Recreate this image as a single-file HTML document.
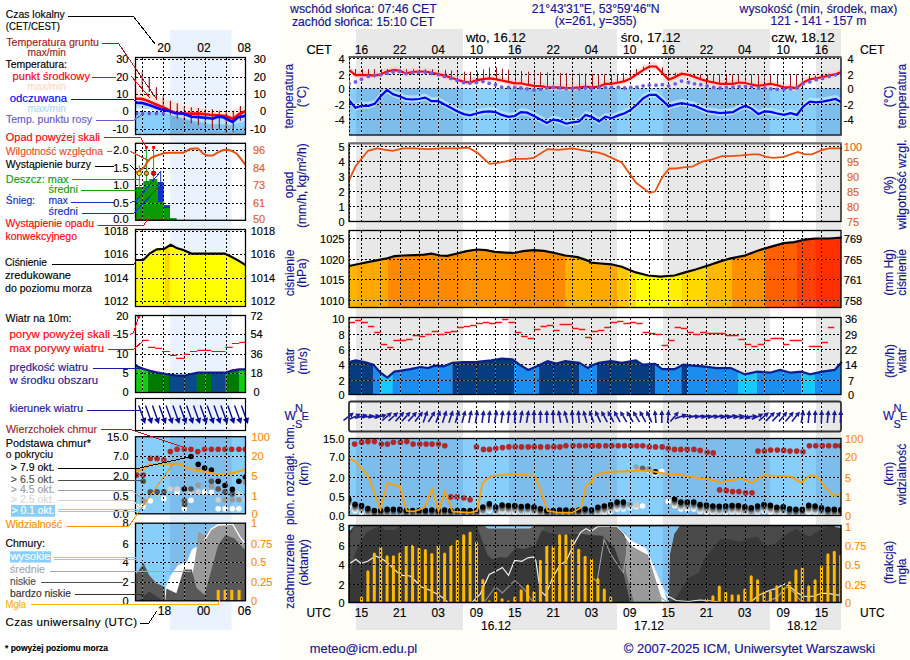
<!DOCTYPE html><html><head><meta charset="utf-8"><style>html,body{margin:0;padding:0;background:#fffff8;} svg{display:block;font-family:'Liberation Sans', sans-serif;}</style></head><body>
<svg width="910" height="660" viewBox="0 0 910 660"><defs>
<clipPath id="cTemp"><rect x="349" y="57.5" width="492" height="77.5"/></clipPath>
<clipPath id="cCb"><rect x="349" y="438.5" width="492" height="77"/></clipPath>
<clipPath id="cCl"><rect x="349" y="525.5" width="492" height="77"/></clipPath>
</defs>
<rect x="0" y="0" width="281" height="660" fill="#ffffff"/>
<rect x="349" y="29" width="492" height="601" fill="#ffffff"/>
<rect x="356" y="29" width="107" height="601" fill="#e8e8e8"/>
<rect x="509" y="29" width="108" height="601" fill="#e8e8e8"/>
<rect x="663" y="29" width="107" height="601" fill="#e8e8e8"/>
<rect x="816" y="29" width="25" height="601" fill="#e8e8e8"/>
<rect x="170" y="30" width="61.599999999999994" height="600" fill="#eaf2fd"/>
<rect x="349" y="57.5" width="492" height="77.5" fill="#ffffff"/>
<rect x="356" y="57.5" width="107" height="77.5" fill="#e8e8e8"/>
<rect x="509" y="57.5" width="108" height="77.5" fill="#e8e8e8"/>
<rect x="663" y="57.5" width="107" height="77.5" fill="#e8e8e8"/>
<rect x="816" y="57.5" width="25" height="77.5" fill="#e8e8e8"/>
<rect x="349" y="88" width="492" height="47" fill="#87cefa"/>
<rect x="356" y="88" width="107" height="47" fill="#7dbdec"/>
<rect x="509" y="88" width="108" height="47" fill="#7dbdec"/>
<rect x="663" y="88" width="107" height="47" fill="#7dbdec"/>
<rect x="816" y="88" width="25" height="47" fill="#7dbdec"/>
<path d="M349.5,57.5V135" stroke="#555" stroke-width="1"/>
<g clip-path="url(#cTemp)">
<path d="M349,65.9 L355.4,71.1 L361.5,70.8 L368.4,71.1 L374.7,71.6 L380.7,70.2 L387.0,67.5 L393.1,66.1 L399.4,66.7 L406.0,69.4 L412.3,68.0 L418.6,67.5 L425.2,67.5 L431.5,68.9 L438.4,70.2 L444.5,71.6 L450.8,73.5 L457.1,75.7 L463.7,77.6 L470.0,78.5 L476.3,76.3 L482.9,75.2 L489.2,74.4 L495.5,75.2 L501.6,76.5 L508.5,77.9 L514.8,79.3 L520.8,79.3 L527.1,80.7 L534.0,81.8 L540.6,82.0 L546.9,83.4 L553.2,83.4 L559.8,83.4 L566.2,84.0 L572.5,84.0 L579.1,83.4 L585.4,82.6 L591.7,83.4 L599.1,82.6 L605.4,79.8 L611.5,79.8 L618.4,78.5 L624.7,77.1 L630.7,74.4 L637.0,70.2 L643.1,66.1 L649.4,62.5 L656.0,62.5 L662.3,68.9 L668.6,75.7 L675.2,73.0 L681.5,69.7 L688.4,70.8 L694.5,73.0 L700.8,75.2 L707.1,77.1 L713.7,78.5 L720.0,79.8 L726.3,79.8 L732.9,79.8 L739.2,78.5 L745.5,79.0 L751.6,80.7 L758.5,81.8 L764.8,80.7 L770.8,79.8 L777.1,81.2 L784.0,83.4 L790.6,83.4 L796.9,84.0 L803.2,78.5 L809.8,75.2 L816.2,74.4 L822.5,73.0 L829.1,71.6 L835.4,70.2 L841.7,68.0 L841,68 L841,75 L841.7,75.0 L835.4,77.2 L829.1,78.6 L822.5,80.0 L816.2,81.4 L809.8,82.2 L803.2,85.5 L796.9,91.0 L790.6,90.4 L784.0,90.4 L777.1,88.2 L770.8,86.8 L764.8,87.7 L758.5,88.8 L751.6,87.7 L745.5,86.0 L739.2,85.5 L732.9,86.8 L726.3,86.8 L720.0,86.8 L713.7,85.5 L707.1,84.1 L700.8,82.2 L694.5,80.0 L688.4,77.8 L681.5,76.7 L675.2,80.0 L668.6,82.7 L662.3,75.9 L656.0,69.5 L649.4,69.5 L643.1,73.1 L637.0,77.2 L630.7,81.4 L624.7,84.1 L618.4,85.5 L611.5,86.8 L605.4,86.8 L599.1,89.6 L591.7,90.4 L585.4,89.6 L579.1,90.4 L572.5,91.0 L566.2,91.0 L559.8,90.4 L553.2,90.4 L546.9,90.4 L540.6,89.0 L534.0,88.8 L527.1,87.7 L520.8,86.3 L514.8,86.3 L508.5,84.9 L501.6,83.5 L495.5,82.2 L489.2,81.4 L482.9,82.2 L476.3,83.3 L470.0,85.5 L463.7,84.6 L457.1,82.7 L450.8,80.5 L444.5,78.6 L438.4,77.2 L431.5,75.9 L425.2,74.5 L418.6,74.5 L412.3,75.0 L406.0,76.4 L399.4,73.7 L393.1,73.1 L387.0,74.5 L380.7,77.2 L374.7,78.6 L368.4,78.1 L361.5,77.8 L355.4,78.1 L349,72.9Z" fill="#ffc8c8" opacity="0.6"/>
<path d="M349,96.3 L355.4,103.7 L361.5,101.8 L368.4,101.8 L374.7,99.9 L380.7,92.2 L387.0,85.9 L393.1,90.3 L399.4,92.2 L406.0,95.0 L412.3,95.5 L418.6,95.0 L425.2,93.6 L431.5,97.2 L438.4,97.2 L444.5,100.5 L450.8,103.7 L457.1,107.3 L463.7,110.1 L470.0,111.4 L476.3,109.5 L482.9,107.9 L489.2,107.3 L495.5,108.1 L501.6,110.9 L508.5,112.8 L514.8,112.0 L520.8,108.1 L527.1,108.7 L534.0,112.0 L540.6,115.6 L546.9,118.9 L553.2,115.6 L559.8,116.9 L566.2,119.7 L572.5,118.3 L579.1,117.5 L585.4,110.9 L591.7,112.8 L599.1,117.5 L605.4,112.8 L611.5,114.2 L618.4,111.4 L624.7,109.2 L630.7,105.9 L637.0,100.5 L643.1,94.4 L649.4,90.8 L656.0,90.8 L662.3,96.3 L668.6,102.4 L675.2,100.5 L681.5,99.1 L688.4,100.5 L694.5,101.8 L700.8,104.6 L707.1,107.3 L713.7,108.1 L720.0,109.2 L726.3,108.7 L732.9,108.1 L739.2,104.6 L745.5,101.8 L751.6,104.6 L758.5,110.1 L764.8,107.3 L770.8,107.9 L777.1,109.5 L784.0,110.9 L790.6,109.2 L796.9,110.9 L803.2,102.6 L809.8,97.7 L816.2,98.3 L822.5,97.7 L829.1,96.3 L835.4,95.0 L841.7,98.3 L841,99 L841,106 L841.7,105.3 L835.4,102.0 L829.1,103.3 L822.5,104.7 L816.2,105.3 L809.8,104.7 L803.2,109.6 L796.9,117.9 L790.6,116.2 L784.0,117.9 L777.1,116.5 L770.8,114.9 L764.8,114.3 L758.5,117.1 L751.6,111.6 L745.5,108.8 L739.2,111.6 L732.9,115.1 L726.3,115.7 L720.0,116.2 L713.7,115.1 L707.1,114.3 L700.8,111.6 L694.5,108.8 L688.4,107.5 L681.5,106.1 L675.2,107.5 L668.6,109.4 L662.3,103.3 L656.0,97.8 L649.4,97.8 L643.1,101.4 L637.0,107.5 L630.7,112.9 L624.7,116.2 L618.4,118.4 L611.5,121.2 L605.4,119.8 L599.1,124.5 L591.7,119.8 L585.4,117.9 L579.1,124.5 L572.5,125.3 L566.2,126.7 L559.8,123.9 L553.2,122.6 L546.9,125.9 L540.6,122.6 L534.0,119.0 L527.1,115.7 L520.8,115.1 L514.8,119.0 L508.5,119.8 L501.6,117.9 L495.5,115.1 L489.2,114.3 L482.9,114.9 L476.3,116.5 L470.0,118.4 L463.7,117.1 L457.1,114.3 L450.8,110.7 L444.5,107.5 L438.4,104.2 L431.5,104.2 L425.2,100.6 L418.6,102.0 L412.3,102.5 L406.0,102.0 L399.4,99.2 L393.1,97.3 L387.0,92.9 L380.7,99.2 L374.7,106.9 L368.4,108.8 L361.5,108.8 L355.4,110.7 L349,103.3Z" fill="#c8ecff" opacity="0.7"/>
<path d="M355.5,69.0V74.9M362.5,69.0V74.8M368.5,69.1V75.1M374.5,69.1V75.6M381.5,69.1V74.2M387.5,69.1V71.5M400.5,69.2V70.9M406.5,69.2V73.4M413.5,69.2V72.0M419.5,69.2V71.5M425.5,69.3V71.5M432.5,69.3V73.0M438.5,69.3V74.2M445.5,69.8V75.6M451.5,70.5V77.6M457.5,71.2V79.8M464.5,71.6V81.6M470.5,71.8V82.5M477.5,71.5V80.3M483.5,69.4V79.2M489.5,67.4V78.4M496.5,67.5V79.2M502.5,68.7V80.6M508.5,69.7V81.9M515.5,70.4V83.3M521.5,71.0V83.4M528.5,71.7V84.8M534.5,72.1V85.8M540.5,72.3V86.0M547.5,72.5V87.4M553.5,72.7V87.4M560.5,72.9V87.4M566.5,73.1V88.0M572.5,73.3V88.0M579.5,73.5V87.4M585.5,73.7V86.6M592.5,73.9V87.4M598.5,74.1V86.7M604.5,74.2V84.3M611.5,74.2V83.8M617.5,73.8V82.8M623.5,73.1V81.4M630.5,71.7V78.8M636.5,69.0V74.7M643.5,66.6V70.4M649.5,65.5V66.7M662.5,67.3V72.4M668.5,71.7V79.2M675.5,72.8V77.3M694.5,74.2V76.7M700.5,74.2V79.0M707.5,74.2V80.9M713.5,74.2V82.3M719.5,74.2V83.7M726.5,74.2V83.8M732.5,74.2V83.8M738.5,74.2V82.7M745.5,74.2V82.9M751.5,74.2V84.6M758.5,74.2V85.7M764.5,74.2V84.8M770.5,74.2V83.9M777.5,74.2V85.1M783.5,74.2V87.1M790.5,74.2V87.4M796.5,74.2V87.9M802.5,74.2V83.3M809.5,75.5V79.7M815.5,75.6V78.5M822.5,74.3V77.2M828.5,73.7V75.9M834.5,73.0V74.4" stroke="#a01818" stroke-width="1"/>
<path d="M349,58.5H841M349,74.5H841M349,88.5H841M349,104.5H841M349,119.5H841M361.5,57.5V135M380.5,57.5V135M400.5,57.5V135M419.5,57.5V135M438.5,57.5V135M457.5,57.5V135M476.5,57.5V135M495.5,57.5V135M515.5,57.5V135M534.5,57.5V135M553.5,57.5V135M572.5,57.5V135M591.5,57.5V135M610.5,57.5V135M630.5,57.5V135M649.5,57.5V135M668.5,57.5V135M687.5,57.5V135M706.5,57.5V135M725.5,57.5V135M745.5,57.5V135M764.5,57.5V135M783.5,57.5V135M802.5,57.5V135M821.5,57.5V135M349.5,57.5V135" stroke="#fff" stroke-opacity="0.3" stroke-width="1" fill="none" shape-rendering="crispEdges"/>
<path d="M349,58.5H841M349,74.5H841M349,88.5H841M349,104.5H841M349,119.5H841M361.5,57.5V135M380.5,57.5V135M400.5,57.5V135M419.5,57.5V135M438.5,57.5V135M457.5,57.5V135M476.5,57.5V135M495.5,57.5V135M515.5,57.5V135M534.5,57.5V135M553.5,57.5V135M572.5,57.5V135M591.5,57.5V135M610.5,57.5V135M630.5,57.5V135M649.5,57.5V135M668.5,57.5V135M687.5,57.5V135M706.5,57.5V135M725.5,57.5V135M745.5,57.5V135M764.5,57.5V135M783.5,57.5V135M802.5,57.5V135M821.5,57.5V135M349.5,57.5V135" stroke="#000" stroke-width="1" stroke-dasharray="2,2" fill="none" shape-rendering="crispEdges"/>
<path d="M349,69.9 L355.4,75.1 L361.5,74.8 L368.4,75.1 L374.7,75.6 L380.7,74.2 L387.0,71.5 L393.1,70.1 L399.4,70.7 L406.0,73.4 L412.3,72.0 L418.6,71.5 L425.2,71.5 L431.5,72.9 L438.4,74.2 L444.5,75.6 L450.8,77.5 L457.1,79.7 L463.7,81.6 L470.0,82.5 L476.3,80.3 L482.9,79.2 L489.2,78.4 L495.5,79.2 L501.6,80.5 L508.5,81.9 L514.8,83.3 L520.8,83.3 L527.1,84.7 L534.0,85.8 L540.6,86.0 L546.9,87.4 L553.2,87.4 L559.8,87.4 L566.2,88.0 L572.5,88.0 L579.1,87.4 L585.4,86.6 L591.7,87.4 L599.1,86.6 L605.4,83.8 L611.5,83.8 L618.4,82.5 L624.7,81.1 L630.7,78.4 L637.0,74.2 L643.1,70.1 L649.4,66.5 L656.0,66.5 L662.3,72.9 L668.6,79.7 L675.2,77.0 L681.5,73.7 L688.4,74.8 L694.5,77.0 L700.8,79.2 L707.1,81.1 L713.7,82.5 L720.0,83.8 L726.3,83.8 L732.9,83.8 L739.2,82.5 L745.5,83.0 L751.6,84.7 L758.5,85.8 L764.8,84.7 L770.8,83.8 L777.1,85.2 L784.0,87.4 L790.6,87.4 L796.9,88.0 L803.2,82.5 L809.8,79.2 L816.2,78.4 L822.5,77.0 L829.1,75.6 L835.4,74.2 L841.7,72.0 L841,72" stroke="#ff0000" stroke-width="2.2" fill="none"/>
<path d="M349,100.3 L355.4,107.7 L361.5,105.8 L368.4,105.8 L374.7,103.9 L380.7,96.2 L387.0,89.9 L393.1,94.3 L399.4,96.2 L406.0,99.0 L412.3,99.5 L418.6,99.0 L425.2,97.6 L431.5,101.2 L438.4,101.2 L444.5,104.5 L450.8,107.7 L457.1,111.3 L463.7,114.1 L470.0,115.4 L476.3,113.5 L482.9,111.9 L489.2,111.3 L495.5,112.1 L501.6,114.9 L508.5,116.8 L514.8,116.0 L520.8,112.1 L527.1,112.7 L534.0,116.0 L540.6,119.6 L546.9,122.9 L553.2,119.6 L559.8,120.9 L566.2,123.7 L572.5,122.3 L579.1,121.5 L585.4,114.9 L591.7,116.8 L599.1,121.5 L605.4,116.8 L611.5,118.2 L618.4,115.4 L624.7,113.2 L630.7,109.9 L637.0,104.5 L643.1,98.4 L649.4,94.8 L656.0,94.8 L662.3,100.3 L668.6,106.4 L675.2,104.5 L681.5,103.1 L688.4,104.5 L694.5,105.8 L700.8,108.6 L707.1,111.3 L713.7,112.1 L720.0,113.2 L726.3,112.7 L732.9,112.1 L739.2,108.6 L745.5,105.8 L751.6,108.6 L758.5,114.1 L764.8,111.3 L770.8,111.9 L777.1,113.5 L784.0,114.9 L790.6,113.2 L796.9,114.9 L803.2,106.6 L809.8,101.7 L816.2,102.3 L822.5,101.7 L829.1,100.3 L835.4,99.0 L841.7,102.3 L841,103" stroke="#0000ff" stroke-width="2.2" fill="none"/>
<circle cx="349.1" cy="83.8" r="1.9" fill="#7060e0"/>
<circle cx="355.4" cy="81.9" r="1.9" fill="#7060e0"/>
<circle cx="361.5" cy="79.2" r="1.9" fill="#7060e0"/>
<circle cx="368.4" cy="76.4" r="1.9" fill="#7060e0"/>
<circle cx="374.7" cy="75.6" r="1.9" fill="#7060e0"/>
<circle cx="380.7" cy="74.8" r="1.9" fill="#7060e0"/>
<circle cx="387.0" cy="73.4" r="1.9" fill="#7060e0"/>
<circle cx="393.1" cy="72.0" r="1.9" fill="#7060e0"/>
<circle cx="399.4" cy="71.5" r="1.9" fill="#7060e0"/>
<circle cx="406.0" cy="73.7" r="1.9" fill="#7060e0"/>
<circle cx="412.3" cy="72.9" r="1.9" fill="#7060e0"/>
<circle cx="418.6" cy="72.3" r="1.9" fill="#7060e0"/>
<circle cx="425.2" cy="72.3" r="1.9" fill="#7060e0"/>
<circle cx="431.5" cy="73.4" r="1.9" fill="#7060e0"/>
<circle cx="438.4" cy="74.8" r="1.9" fill="#7060e0"/>
<circle cx="444.5" cy="76.4" r="1.9" fill="#7060e0"/>
<circle cx="450.8" cy="78.4" r="1.9" fill="#7060e0"/>
<circle cx="457.1" cy="80.5" r="1.9" fill="#7060e0"/>
<circle cx="463.7" cy="82.5" r="1.9" fill="#7060e0"/>
<circle cx="470.0" cy="83.0" r="1.9" fill="#7060e0"/>
<circle cx="476.3" cy="82.5" r="1.9" fill="#7060e0"/>
<circle cx="482.9" cy="81.6" r="1.9" fill="#7060e0"/>
<circle cx="489.2" cy="83.3" r="1.9" fill="#7060e0"/>
<circle cx="495.5" cy="84.7" r="1.9" fill="#7060e0"/>
<circle cx="501.6" cy="87.1" r="1.9" fill="#7060e0"/>
<circle cx="508.5" cy="87.4" r="1.9" fill="#7060e0"/>
<circle cx="514.8" cy="87.4" r="1.9" fill="#7060e0"/>
<circle cx="520.8" cy="88.0" r="1.9" fill="#7060e0"/>
<circle cx="527.1" cy="88.8" r="1.9" fill="#7060e0"/>
<circle cx="534.0" cy="89.9" r="1.9" fill="#7060e0"/>
<circle cx="540.6" cy="89.3" r="1.9" fill="#7060e0"/>
<circle cx="546.9" cy="88.0" r="1.9" fill="#7060e0"/>
<circle cx="553.2" cy="87.4" r="1.9" fill="#7060e0"/>
<circle cx="559.8" cy="88.0" r="1.9" fill="#7060e0"/>
<circle cx="566.2" cy="88.8" r="1.9" fill="#7060e0"/>
<circle cx="572.5" cy="88.5" r="1.9" fill="#7060e0"/>
<circle cx="579.1" cy="88.8" r="1.9" fill="#7060e0"/>
<circle cx="585.4" cy="88.0" r="1.9" fill="#7060e0"/>
<circle cx="591.7" cy="88.5" r="1.9" fill="#7060e0"/>
<circle cx="599.1" cy="87.4" r="1.9" fill="#7060e0"/>
<circle cx="605.4" cy="87.4" r="1.9" fill="#7060e0"/>
<circle cx="611.5" cy="87.4" r="1.9" fill="#7060e0"/>
<circle cx="618.4" cy="87.4" r="1.9" fill="#7060e0"/>
<circle cx="624.7" cy="88.0" r="1.9" fill="#7060e0"/>
<circle cx="630.7" cy="87.4" r="1.9" fill="#7060e0"/>
<circle cx="637.0" cy="87.1" r="1.9" fill="#7060e0"/>
<circle cx="643.1" cy="85.8" r="1.9" fill="#7060e0"/>
<circle cx="649.4" cy="85.2" r="1.9" fill="#7060e0"/>
<circle cx="656.0" cy="85.2" r="1.9" fill="#7060e0"/>
<circle cx="662.3" cy="84.7" r="1.9" fill="#7060e0"/>
<circle cx="668.6" cy="85.8" r="1.9" fill="#7060e0"/>
<circle cx="675.2" cy="83.8" r="1.9" fill="#7060e0"/>
<circle cx="681.5" cy="81.1" r="1.9" fill="#7060e0"/>
<circle cx="688.4" cy="82.5" r="1.9" fill="#7060e0"/>
<circle cx="694.5" cy="83.8" r="1.9" fill="#7060e0"/>
<circle cx="700.8" cy="84.7" r="1.9" fill="#7060e0"/>
<circle cx="707.1" cy="86.0" r="1.9" fill="#7060e0"/>
<circle cx="713.7" cy="87.4" r="1.9" fill="#7060e0"/>
<circle cx="720.0" cy="88.0" r="1.9" fill="#7060e0"/>
<circle cx="726.3" cy="87.4" r="1.9" fill="#7060e0"/>
<circle cx="732.9" cy="87.1" r="1.9" fill="#7060e0"/>
<circle cx="739.2" cy="86.6" r="1.9" fill="#7060e0"/>
<circle cx="745.5" cy="86.6" r="1.9" fill="#7060e0"/>
<circle cx="751.6" cy="86.6" r="1.9" fill="#7060e0"/>
<circle cx="758.5" cy="88.0" r="1.9" fill="#7060e0"/>
<circle cx="764.8" cy="88.0" r="1.9" fill="#7060e0"/>
<circle cx="770.8" cy="88.8" r="1.9" fill="#7060e0"/>
<circle cx="777.1" cy="89.3" r="1.9" fill="#7060e0"/>
<circle cx="784.0" cy="89.3" r="1.9" fill="#7060e0"/>
<circle cx="790.6" cy="88.8" r="1.9" fill="#7060e0"/>
<circle cx="796.9" cy="88.0" r="1.9" fill="#7060e0"/>
<circle cx="803.2" cy="83.8" r="1.9" fill="#7060e0"/>
<circle cx="809.8" cy="81.9" r="1.9" fill="#7060e0"/>
<circle cx="816.2" cy="79.7" r="1.9" fill="#7060e0"/>
<circle cx="822.5" cy="78.4" r="1.9" fill="#7060e0"/>
<circle cx="829.1" cy="76.4" r="1.9" fill="#7060e0"/>
<circle cx="835.4" cy="74.8" r="1.9" fill="#7060e0"/>
<circle cx="841.7" cy="73.7" r="1.9" fill="#7060e0"/>
</g>
<path d="M841,57.5V135H349" stroke="#1a2030" stroke-width="1.5" fill="none"/>
<path d="M348.5,56.9H841.5" stroke="#606060" stroke-width="2" fill="none"/>
<rect x="349" y="143.5" width="492" height="78.0" fill="#ffffff"/>
<rect x="356" y="143.5" width="107" height="78.0" fill="#e8e8e8"/>
<rect x="509" y="143.5" width="108" height="78.0" fill="#e8e8e8"/>
<rect x="663" y="143.5" width="107" height="78.0" fill="#e8e8e8"/>
<rect x="816" y="143.5" width="25" height="78.0" fill="#e8e8e8"/>
<path d="M349,146.5H841M349,161.5H841M349,176.5H841M349,191.5H841M349,206.5H841M361.5,143.5V221.5M380.5,143.5V221.5M400.5,143.5V221.5M419.5,143.5V221.5M438.5,143.5V221.5M457.5,143.5V221.5M476.5,143.5V221.5M495.5,143.5V221.5M515.5,143.5V221.5M534.5,143.5V221.5M553.5,143.5V221.5M572.5,143.5V221.5M591.5,143.5V221.5M610.5,143.5V221.5M630.5,143.5V221.5M649.5,143.5V221.5M668.5,143.5V221.5M687.5,143.5V221.5M706.5,143.5V221.5M725.5,143.5V221.5M745.5,143.5V221.5M764.5,143.5V221.5M783.5,143.5V221.5M802.5,143.5V221.5M821.5,143.5V221.5M349.5,143.5V221.5" stroke="#fff" stroke-opacity="0.3" stroke-width="1" fill="none" shape-rendering="crispEdges"/>
<path d="M349,146.5H841M349,161.5H841M349,176.5H841M349,191.5H841M349,206.5H841M361.5,143.5V221.5M380.5,143.5V221.5M400.5,143.5V221.5M419.5,143.5V221.5M438.5,143.5V221.5M457.5,143.5V221.5M476.5,143.5V221.5M495.5,143.5V221.5M515.5,143.5V221.5M534.5,143.5V221.5M553.5,143.5V221.5M572.5,143.5V221.5M591.5,143.5V221.5M610.5,143.5V221.5M630.5,143.5V221.5M649.5,143.5V221.5M668.5,143.5V221.5M687.5,143.5V221.5M706.5,143.5V221.5M725.5,143.5V221.5M745.5,143.5V221.5M764.5,143.5V221.5M783.5,143.5V221.5M802.5,143.5V221.5M821.5,143.5V221.5M349.5,143.5V221.5" stroke="#000" stroke-width="1" stroke-dasharray="2,2" fill="none" shape-rendering="crispEdges"/>
<path d="M349,221.5H841" stroke="#1a8a1a" stroke-width="1" stroke-dasharray="2,2"/>
<path d="M348.7,180.8 L355.7,166.0 L368.0,150.8 L376.8,148.4 L385.6,149.8 L392.7,150.8 L403.2,148.4 L413.8,148.4 L427.9,149.1 L442.0,148.4 L456.1,148.4 L468.4,147.7 L477.2,152.6 L489.5,163.9 L496.5,163.2 L505.4,161.4 L515.9,158.9 L526.5,158.9 L533.5,157.9 L547.6,149.1 L558.2,149.8 L572.3,148.4 L586.3,150.8 L598.7,152.6 L604.1,154.4 L621.7,162.5 L635.8,182.5 L649.9,193.1 L655.1,191.3 L662.2,177.3 L669.2,168.5 L676.3,168.5 L683.3,167.4 L692.1,166.7 L702.7,161.4 L711.5,159.6 L722.0,156.1 L730.8,156.1 L741.4,155.4 L752.0,154.4 L759.0,154.4 L766.1,156.8 L773.1,157.9 L783.7,156.8 L797.7,151.9 L804.8,154.4 L811.8,154.4 L822.4,149.8 L829.4,148.4 L841.8,148.4" stroke="#ee5010" stroke-width="1.8" fill="none"/>
<rect x="349" y="143.5" width="492" height="78.0" fill="none" stroke="#000" stroke-width="1.3"/>
<path d="M348.5,143.3H841.5" stroke="#707070" stroke-width="2" fill="none"/>
<rect x="349" y="230.5" width="492" height="77.0" fill="#ffffff"/>
<rect x="356" y="230.5" width="107" height="77.0" fill="#e8e8e8"/>
<rect x="509" y="230.5" width="108" height="77.0" fill="#e8e8e8"/>
<rect x="663" y="230.5" width="107" height="77.0" fill="#e8e8e8"/>
<rect x="816" y="230.5" width="25" height="77.0" fill="#e8e8e8"/>
<clipPath id="cPres"><path d="M349,266.0 L361.0,263.5 L375.1,260.7 L387.4,258.3 L394.4,256.2 L403.2,255.5 L415.6,255.1 L424.4,254.7 L431.4,253.7 L440.2,255.5 L447.3,255.8 L456.1,253.7 L466.6,251.2 L477.2,249.5 L486.0,250.2 L494.8,251.9 L505.4,252.6 L514.2,253.0 L523.0,251.2 L533.5,250.2 L544.1,250.9 L554.6,253.0 L565.2,255.5 L577.5,257.2 L589.9,261.4 L590.0,262.5 L600.6,263.5 L611.1,264.3 L621.7,266.7 L635.8,272.4 L648.1,275.5 L660.4,276.6 L674.5,275.5 L685.1,272.4 L695.6,269.5 L709.7,265.0 L720.3,261.4 L730.8,258.3 L744.9,255.5 L759.0,250.2 L771.3,246.6 L783.7,243.1 L794.2,242.1 L804.8,239.6 L815.4,238.5 L829.4,238.5 L841.8,237.5 L841,307.5 L349,307.5Z"/></clipPath>
<g clip-path="url(#cPres)">
<rect x="349" y="230.5" width="7.699999999999977" height="77.0" fill="#ffb400"/>
<rect x="356.4" y="230.5" width="31.900000000000023" height="77.0" fill="#ffa800"/>
<rect x="388" y="230.5" width="74.3" height="77.0" fill="#ff8a00"/>
<rect x="462" y="230.5" width="48.3" height="77.0" fill="#ff9200"/>
<rect x="510" y="230.5" width="55.3" height="77.0" fill="#ff8a00"/>
<rect x="565" y="230.5" width="26.3" height="77.0" fill="#ffb000"/>
<rect x="591" y="230.5" width="26.3" height="77.0" fill="#ffa800"/>
<rect x="617" y="230.5" width="12.3" height="77.0" fill="#ffc800"/>
<rect x="629" y="230.5" width="7.3" height="77.0" fill="#ffe000"/>
<rect x="636" y="230.5" width="33.3" height="77.0" fill="#ffff00"/>
<rect x="669" y="230.5" width="13.3" height="77.0" fill="#ffee00"/>
<rect x="682" y="230.5" width="25.3" height="77.0" fill="#ffd800"/>
<rect x="707" y="230.5" width="25.3" height="77.0" fill="#ffb800"/>
<rect x="732" y="230.5" width="33.3" height="77.0" fill="#ff9000"/>
<rect x="765" y="230.5" width="32.3" height="77.0" fill="#ff6000"/>
<rect x="797" y="230.5" width="19.3" height="77.0" fill="#ff4000"/>
<rect x="816" y="230.5" width="25.3" height="77.0" fill="#ff3000"/>
</g>
<path d="M349,238.5H841M349,259.5H841M349,279.5H841M349,300.5H841M361.5,230.5V307.5M380.5,230.5V307.5M400.5,230.5V307.5M419.5,230.5V307.5M438.5,230.5V307.5M457.5,230.5V307.5M476.5,230.5V307.5M495.5,230.5V307.5M515.5,230.5V307.5M534.5,230.5V307.5M553.5,230.5V307.5M572.5,230.5V307.5M591.5,230.5V307.5M610.5,230.5V307.5M630.5,230.5V307.5M649.5,230.5V307.5M668.5,230.5V307.5M687.5,230.5V307.5M706.5,230.5V307.5M725.5,230.5V307.5M745.5,230.5V307.5M764.5,230.5V307.5M783.5,230.5V307.5M802.5,230.5V307.5M821.5,230.5V307.5M349.5,230.5V307.5" stroke="#fff" stroke-opacity="0.12" stroke-width="1" fill="none" shape-rendering="crispEdges"/>
<path d="M349,238.5H841M349,259.5H841M349,279.5H841M349,300.5H841M361.5,230.5V307.5M380.5,230.5V307.5M400.5,230.5V307.5M419.5,230.5V307.5M438.5,230.5V307.5M457.5,230.5V307.5M476.5,230.5V307.5M495.5,230.5V307.5M515.5,230.5V307.5M534.5,230.5V307.5M553.5,230.5V307.5M572.5,230.5V307.5M591.5,230.5V307.5M610.5,230.5V307.5M630.5,230.5V307.5M649.5,230.5V307.5M668.5,230.5V307.5M687.5,230.5V307.5M706.5,230.5V307.5M725.5,230.5V307.5M745.5,230.5V307.5M764.5,230.5V307.5M783.5,230.5V307.5M802.5,230.5V307.5M821.5,230.5V307.5M349.5,230.5V307.5" stroke="#000" stroke-width="1" stroke-dasharray="2,2" fill="none" shape-rendering="crispEdges"/>
<path d="M349,266.0 L361.0,263.5 L375.1,260.7 L387.4,258.3 L394.4,256.2 L403.2,255.5 L415.6,255.1 L424.4,254.7 L431.4,253.7 L440.2,255.5 L447.3,255.8 L456.1,253.7 L466.6,251.2 L477.2,249.5 L486.0,250.2 L494.8,251.9 L505.4,252.6 L514.2,253.0 L523.0,251.2 L533.5,250.2 L544.1,250.9 L554.6,253.0 L565.2,255.5 L577.5,257.2 L589.9,261.4 L590.0,262.5 L600.6,263.5 L611.1,264.3 L621.7,266.7 L635.8,272.4 L648.1,275.5 L660.4,276.6 L674.5,275.5 L685.1,272.4 L695.6,269.5 L709.7,265.0 L720.3,261.4 L730.8,258.3 L744.9,255.5 L759.0,250.2 L771.3,246.6 L783.7,243.1 L794.2,242.1 L804.8,239.6 L815.4,238.5 L829.4,238.5 L841.8,237.5" stroke="#000" stroke-width="2.2" fill="none"/>
<rect x="349" y="230.5" width="492" height="77.0" fill="none" stroke="#000" stroke-width="1.3"/>
<rect x="349" y="317.5" width="492" height="77.0" fill="#ffffff"/>
<rect x="356" y="317.5" width="107" height="77.0" fill="#e8e8e8"/>
<rect x="509" y="317.5" width="108" height="77.0" fill="#e8e8e8"/>
<rect x="663" y="317.5" width="107" height="77.0" fill="#e8e8e8"/>
<rect x="816" y="317.5" width="25" height="77.0" fill="#e8e8e8"/>
<clipPath id="cWind"><path d="M349,362.1 L355.7,360.4 L364.5,362.1 L373.3,364.6 L380.4,372.7 L387.4,377.6 L394.4,371.6 L401.5,370.6 L410.3,369.2 L420.8,367.0 L427.9,368.1 L434.9,365.6 L443.7,366.3 L452.5,362.8 L463.1,362.1 L477.2,361.8 L491.3,360.4 L501.8,358.6 L512.4,359.3 L519.4,364.6 L528.2,369.9 L537.0,366.3 L547.6,361.1 L556.4,363.5 L565.2,361.1 L579.3,362.8 L588.1,368.1 L590.0,366.3 L598.8,362.8 L611.1,361.1 L621.7,362.8 L635.8,360.4 L642.8,364.6 L655.1,363.9 L662.2,369.2 L674.5,369.2 L683.3,364.6 L692.1,365.6 L702.7,366.3 L716.8,368.1 L730.8,368.1 L744.9,374.4 L757.3,371.6 L769.6,372.7 L780.1,369.9 L790.7,372.7 L801.3,371.6 L810.1,374.4 L822.4,371.6 L834.7,369.9 L841.8,362.1 L841,394.5 L349,394.5Z"/></clipPath>
<g clip-path="url(#cWind)">
<rect x="349" y="317.5" width="24.3" height="77.0" fill="#063c82"/>
<rect x="373" y="317.5" width="7.3" height="77.0" fill="#1a8cf0"/>
<rect x="380" y="317.5" width="12.99999999999999" height="77.0" fill="#18c8ff"/>
<rect x="392.7" y="317.5" width="60.10000000000001" height="77.0" fill="#1a8cf0"/>
<rect x="452.5" y="317.5" width="61.8" height="77.0" fill="#063c82"/>
<rect x="514" y="317.5" width="25.3" height="77.0" fill="#1a8cf0"/>
<rect x="539" y="317.5" width="40.3" height="77.0" fill="#063c82"/>
<rect x="579" y="317.5" width="18.3" height="77.0" fill="#1a8cf0"/>
<rect x="597" y="317.5" width="58.3" height="77.0" fill="#063c82"/>
<rect x="655" y="317.5" width="26.8" height="77.0" fill="#1a8cf0"/>
<rect x="681.5" y="317.5" width="5.8" height="77.0" fill="#063c82"/>
<rect x="687" y="317.5" width="51.3" height="77.0" fill="#1a8cf0"/>
<rect x="738" y="317.5" width="19.3" height="77.0" fill="#18c8ff"/>
<rect x="757" y="317.5" width="44.3" height="77.0" fill="#1a8cf0"/>
<rect x="801" y="317.5" width="14.3" height="77.0" fill="#18c8ff"/>
<rect x="815" y="317.5" width="26.3" height="77.0" fill="#1a8cf0"/>
</g>
<path d="M349,334.5H841M349,349.5H841M349,364.5H841M349,380.5H841M361.5,317.5V394.5M380.5,317.5V394.5M400.5,317.5V394.5M419.5,317.5V394.5M438.5,317.5V394.5M457.5,317.5V394.5M476.5,317.5V394.5M495.5,317.5V394.5M515.5,317.5V394.5M534.5,317.5V394.5M553.5,317.5V394.5M572.5,317.5V394.5M591.5,317.5V394.5M610.5,317.5V394.5M630.5,317.5V394.5M649.5,317.5V394.5M668.5,317.5V394.5M687.5,317.5V394.5M706.5,317.5V394.5M725.5,317.5V394.5M745.5,317.5V394.5M764.5,317.5V394.5M783.5,317.5V394.5M802.5,317.5V394.5M821.5,317.5V394.5M349.5,317.5V394.5" stroke="#fff" stroke-opacity="0.3" stroke-width="1" fill="none" shape-rendering="crispEdges"/>
<path d="M349,334.5H841M349,349.5H841M349,364.5H841M349,380.5H841M361.5,317.5V394.5M380.5,317.5V394.5M400.5,317.5V394.5M419.5,317.5V394.5M438.5,317.5V394.5M457.5,317.5V394.5M476.5,317.5V394.5M495.5,317.5V394.5M515.5,317.5V394.5M534.5,317.5V394.5M553.5,317.5V394.5M572.5,317.5V394.5M591.5,317.5V394.5M610.5,317.5V394.5M630.5,317.5V394.5M649.5,317.5V394.5M668.5,317.5V394.5M687.5,317.5V394.5M706.5,317.5V394.5M725.5,317.5V394.5M745.5,317.5V394.5M764.5,317.5V394.5M783.5,317.5V394.5M802.5,317.5V394.5M821.5,317.5V394.5M349.5,317.5V394.5" stroke="#000" stroke-width="1" stroke-dasharray="2,2" fill="none" shape-rendering="crispEdges"/>
<path d="M349,362.1 L355.7,360.4 L364.5,362.1 L373.3,364.6 L380.4,372.7 L387.4,377.6 L394.4,371.6 L401.5,370.6 L410.3,369.2 L420.8,367.0 L427.9,368.1 L434.9,365.6 L443.7,366.3 L452.5,362.8 L463.1,362.1 L477.2,361.8 L491.3,360.4 L501.8,358.6 L512.4,359.3 L519.4,364.6 L528.2,369.9 L537.0,366.3 L547.6,361.1 L556.4,363.5 L565.2,361.1 L579.3,362.8 L588.1,368.1 L590.0,366.3 L598.8,362.8 L611.1,361.1 L621.7,362.8 L635.8,360.4 L642.8,364.6 L655.1,363.9 L662.2,369.2 L674.5,369.2 L683.3,364.6 L692.1,365.6 L702.7,366.3 L716.8,368.1 L730.8,368.1 L744.9,374.4 L757.3,371.6 L769.6,372.7 L780.1,369.9 L790.7,372.7 L801.3,371.6 L810.1,374.4 L822.4,371.6 L834.7,369.9 L841.8,362.1" stroke="#0a1e8c" stroke-width="2.2" fill="none"/>
<path d="M349.0,322.5H355.1M355.1,320.5H361.5M361.5,322.5H367.9M367.9,326.5H374.3M374.3,332.5H380.7M380.7,344.5H387.1M387.1,347.5H393.4M393.4,340.5H399.8M399.8,340.5H406.2M406.2,339.5H412.6M412.6,335.5H419.0M419.0,336.5H425.4M425.4,334.5H431.8M431.8,331.5H438.2M438.2,334.5H444.6M444.6,332.5H450.9M450.9,331.5H457.3M457.3,327.5H463.7M463.7,326.5H470.1M470.1,325.5H476.5M476.5,323.5H482.9M482.9,322.5H489.3M489.3,323.5H495.7M495.7,322.5H502.1M502.1,319.5H508.4M508.4,322.5H514.8M514.8,332.5H521.2M521.2,336.5H527.6M527.6,338.5H534.0M534.0,329.5H540.4M540.4,326.5H546.8M546.8,325.5H553.2M553.2,330.5H559.6M559.6,324.5H565.9M565.9,324.5H572.3M572.3,328.5H578.7M578.7,329.5H585.1M585.1,337.5H591.5M591.5,331.5H597.9M597.9,330.5H604.3M604.3,327.5H610.7M610.7,322.5H617.1M617.1,321.5H623.4M623.4,323.5H629.8M629.8,322.5H636.2M636.2,323.5H642.6M642.6,332.5H649.0M649.0,333.5H655.4M655.4,334.5H661.8M661.8,345.5H668.2M668.2,340.5H674.6M674.6,327.5H680.9M680.9,328.5H687.3M687.3,332.5H693.7M693.7,334.5H700.1M700.1,332.5H706.5M706.5,333.5H712.9M712.9,333.5H719.3M719.3,333.5H725.7M725.7,335.5H732.1M732.1,335.5H738.4M738.4,339.5H744.8M744.8,344.5H751.2M751.2,346.5H757.6M757.6,344.5H764.0M764.0,340.5H770.4M770.4,338.5H776.8M776.8,338.5H783.2M783.2,344.5H789.6M789.6,340.5H795.9M795.9,340.5H802.3M808.7,346.5H815.1M815.1,346.5H821.5M821.5,342.5H827.9M827.9,327.5H834.3" stroke="#ff1010" stroke-width="1.3"/>
<rect x="349" y="317.5" width="492" height="77.0" fill="none" stroke="#000" stroke-width="1.3"/>
<rect x="349" y="401.5" width="492" height="30.0" fill="#ffffff"/>
<rect x="356" y="401.5" width="107" height="30.0" fill="#e8e8e8"/>
<rect x="509" y="401.5" width="108" height="30.0" fill="#e8e8e8"/>
<rect x="663" y="401.5" width="107" height="30.0" fill="#e8e8e8"/>
<rect x="816" y="401.5" width="25" height="30.0" fill="#e8e8e8"/>
<path d="M361.5,401.5V431.5M380.5,401.5V431.5M400.5,401.5V431.5M419.5,401.5V431.5M438.5,401.5V431.5M457.5,401.5V431.5M476.5,401.5V431.5M495.5,401.5V431.5M515.5,401.5V431.5M534.5,401.5V431.5M553.5,401.5V431.5M572.5,401.5V431.5M591.5,401.5V431.5M610.5,401.5V431.5M630.5,401.5V431.5M649.5,401.5V431.5M668.5,401.5V431.5M687.5,401.5V431.5M706.5,401.5V431.5M725.5,401.5V431.5M745.5,401.5V431.5M764.5,401.5V431.5M783.5,401.5V431.5M802.5,401.5V431.5M821.5,401.5V431.5" stroke="#fff" stroke-opacity="0.3" stroke-width="1" fill="none" shape-rendering="crispEdges"/>
<path d="M361.5,401.5V431.5M380.5,401.5V431.5M400.5,401.5V431.5M419.5,401.5V431.5M438.5,401.5V431.5M457.5,401.5V431.5M476.5,401.5V431.5M495.5,401.5V431.5M515.5,401.5V431.5M534.5,401.5V431.5M553.5,401.5V431.5M572.5,401.5V431.5M591.5,401.5V431.5M610.5,401.5V431.5M630.5,401.5V431.5M649.5,401.5V431.5M668.5,401.5V431.5M687.5,401.5V431.5M706.5,401.5V431.5M725.5,401.5V431.5M745.5,401.5V431.5M764.5,401.5V431.5M783.5,401.5V431.5M802.5,401.5V431.5M821.5,401.5V431.5" stroke="#000" stroke-width="1" stroke-dasharray="2,2" fill="none" shape-rendering="crispEdges"/>
<rect x="349" y="401.5" width="492" height="30.0" rx="2" fill="none" stroke="#333" stroke-width="1.8"/>
<rect x="349" y="438.5" width="492" height="77.0" fill="#87cefa"/>
<rect x="356" y="438.5" width="107" height="77.0" fill="#7dbdec"/>
<rect x="509" y="438.5" width="108" height="77.0" fill="#7dbdec"/>
<rect x="663" y="438.5" width="107" height="77.0" fill="#7dbdec"/>
<rect x="816" y="438.5" width="25" height="77.0" fill="#7dbdec"/>
<rect x="349" y="525.5" width="492" height="77.0" fill="#87cefa"/>
<rect x="356" y="525.5" width="107" height="77.0" fill="#7dbdec"/>
<rect x="509" y="525.5" width="108" height="77.0" fill="#7dbdec"/>
<rect x="663" y="525.5" width="107" height="77.0" fill="#7dbdec"/>
<rect x="816" y="525.5" width="25" height="77.0" fill="#7dbdec"/>
<g clip-path="url(#cCb)">
<circle cx="348.7" cy="506.2" r="2.8" fill="#f4f4f4"/>
<circle cx="348.7" cy="504.5" r="2.8" fill="#c8c8c8"/>
<circle cx="348.7" cy="502.8" r="2.8" fill="#8c8c8c"/>
<circle cx="348.7" cy="501.1" r="2.8" fill="#505050"/>
<circle cx="348.7" cy="499.4" r="2.8" fill="#000000"/>
<circle cx="355.1" cy="511.0" r="2.8" fill="#f4f4f4"/>
<circle cx="355.1" cy="509.3" r="2.8" fill="#c8c8c8"/>
<circle cx="355.1" cy="507.6" r="2.8" fill="#8c8c8c"/>
<circle cx="355.1" cy="505.9" r="2.8" fill="#505050"/>
<circle cx="355.1" cy="504.2" r="2.8" fill="#000000"/>
<circle cx="361.5" cy="512.4" r="2.8" fill="#f4f4f4"/>
<circle cx="361.5" cy="510.7" r="2.8" fill="#c8c8c8"/>
<circle cx="361.5" cy="509.0" r="2.8" fill="#8c8c8c"/>
<circle cx="361.5" cy="507.3" r="2.8" fill="#505050"/>
<circle cx="361.5" cy="505.6" r="2.8" fill="#000000"/>
<circle cx="367.9" cy="515.4" r="2.8" fill="#f4f4f4"/>
<circle cx="367.9" cy="513.7" r="2.8" fill="#c8c8c8"/>
<circle cx="367.9" cy="512.0" r="2.8" fill="#8c8c8c"/>
<circle cx="367.9" cy="510.3" r="2.8" fill="#505050"/>
<circle cx="367.9" cy="508.6" r="2.8" fill="#000000"/>
<circle cx="374.3" cy="517.3" r="2.8" fill="#f4f4f4"/>
<circle cx="374.3" cy="515.6" r="2.8" fill="#c8c8c8"/>
<circle cx="374.3" cy="513.9" r="2.8" fill="#8c8c8c"/>
<circle cx="374.3" cy="512.2" r="2.8" fill="#505050"/>
<circle cx="374.3" cy="510.5" r="2.8" fill="#000000"/>
<circle cx="380.7" cy="517.3" r="2.8" fill="#f4f4f4"/>
<circle cx="380.7" cy="515.6" r="2.8" fill="#c8c8c8"/>
<circle cx="380.7" cy="513.9" r="2.8" fill="#8c8c8c"/>
<circle cx="380.7" cy="512.2" r="2.8" fill="#505050"/>
<circle cx="380.7" cy="510.5" r="2.8" fill="#000000"/>
<circle cx="387.1" cy="516.2" r="2.8" fill="#f4f4f4"/>
<circle cx="387.1" cy="514.5" r="2.8" fill="#c8c8c8"/>
<circle cx="387.1" cy="512.8" r="2.8" fill="#8c8c8c"/>
<circle cx="387.1" cy="511.1" r="2.8" fill="#505050"/>
<circle cx="387.1" cy="509.4" r="2.8" fill="#000000"/>
<circle cx="393.4" cy="516.2" r="2.8" fill="#f4f4f4"/>
<circle cx="393.4" cy="514.5" r="2.8" fill="#c8c8c8"/>
<circle cx="393.4" cy="512.8" r="2.8" fill="#8c8c8c"/>
<circle cx="393.4" cy="511.1" r="2.8" fill="#505050"/>
<circle cx="393.4" cy="509.4" r="2.8" fill="#000000"/>
<circle cx="399.8" cy="516.2" r="2.8" fill="#f4f4f4"/>
<circle cx="399.8" cy="514.5" r="2.8" fill="#c8c8c8"/>
<circle cx="399.8" cy="512.8" r="2.8" fill="#8c8c8c"/>
<circle cx="399.8" cy="511.1" r="2.8" fill="#505050"/>
<circle cx="399.8" cy="509.4" r="2.8" fill="#000000"/>
<circle cx="406.2" cy="517.3" r="2.8" fill="#f4f4f4"/>
<circle cx="406.2" cy="515.6" r="2.8" fill="#c8c8c8"/>
<circle cx="406.2" cy="513.9" r="2.8" fill="#8c8c8c"/>
<circle cx="406.2" cy="512.2" r="2.8" fill="#505050"/>
<circle cx="406.2" cy="510.5" r="2.8" fill="#000000"/>
<circle cx="412.6" cy="517.3" r="2.8" fill="#f4f4f4"/>
<circle cx="412.6" cy="515.6" r="2.8" fill="#c8c8c8"/>
<circle cx="412.6" cy="513.9" r="2.8" fill="#8c8c8c"/>
<circle cx="412.6" cy="512.2" r="2.8" fill="#505050"/>
<circle cx="412.6" cy="510.5" r="2.8" fill="#000000"/>
<circle cx="419.0" cy="517.3" r="2.8" fill="#f4f4f4"/>
<circle cx="419.0" cy="515.6" r="2.8" fill="#c8c8c8"/>
<circle cx="419.0" cy="513.9" r="2.8" fill="#8c8c8c"/>
<circle cx="419.0" cy="512.2" r="2.8" fill="#505050"/>
<circle cx="419.0" cy="510.5" r="2.8" fill="#000000"/>
<circle cx="425.4" cy="517.3" r="2.8" fill="#f4f4f4"/>
<circle cx="425.4" cy="515.6" r="2.8" fill="#c8c8c8"/>
<circle cx="425.4" cy="513.9" r="2.8" fill="#8c8c8c"/>
<circle cx="425.4" cy="512.2" r="2.8" fill="#505050"/>
<circle cx="425.4" cy="510.5" r="2.8" fill="#000000"/>
<circle cx="431.8" cy="516.8" r="2.8" fill="#f4f4f4"/>
<circle cx="431.8" cy="515.1" r="2.8" fill="#c8c8c8"/>
<circle cx="431.8" cy="513.4" r="2.8" fill="#8c8c8c"/>
<circle cx="431.8" cy="511.7" r="2.8" fill="#505050"/>
<circle cx="431.8" cy="510.0" r="2.8" fill="#000000"/>
<circle cx="438.2" cy="517.3" r="2.8" fill="#f4f4f4"/>
<circle cx="438.2" cy="515.6" r="2.8" fill="#c8c8c8"/>
<circle cx="438.2" cy="513.9" r="2.8" fill="#8c8c8c"/>
<circle cx="438.2" cy="512.2" r="2.8" fill="#505050"/>
<circle cx="438.2" cy="510.5" r="2.8" fill="#000000"/>
<circle cx="444.6" cy="516.8" r="2.8" fill="#f4f4f4"/>
<circle cx="444.6" cy="515.1" r="2.8" fill="#c8c8c8"/>
<circle cx="444.6" cy="513.4" r="2.8" fill="#8c8c8c"/>
<circle cx="444.6" cy="511.7" r="2.8" fill="#505050"/>
<circle cx="444.6" cy="510.0" r="2.8" fill="#000000"/>
<circle cx="450.9" cy="517.3" r="2.8" fill="#f4f4f4"/>
<circle cx="450.9" cy="515.6" r="2.8" fill="#c8c8c8"/>
<circle cx="450.9" cy="513.9" r="2.8" fill="#8c8c8c"/>
<circle cx="450.9" cy="512.2" r="2.8" fill="#505050"/>
<circle cx="450.9" cy="510.5" r="2.8" fill="#000000"/>
<circle cx="457.3" cy="517.3" r="2.8" fill="#f4f4f4"/>
<circle cx="457.3" cy="515.6" r="2.8" fill="#c8c8c8"/>
<circle cx="457.3" cy="513.9" r="2.8" fill="#8c8c8c"/>
<circle cx="457.3" cy="512.2" r="2.8" fill="#505050"/>
<circle cx="457.3" cy="510.5" r="2.8" fill="#000000"/>
<circle cx="463.7" cy="517.3" r="2.8" fill="#f4f4f4"/>
<circle cx="463.7" cy="515.6" r="2.8" fill="#c8c8c8"/>
<circle cx="463.7" cy="513.9" r="2.8" fill="#8c8c8c"/>
<circle cx="463.7" cy="512.2" r="2.8" fill="#505050"/>
<circle cx="463.7" cy="510.5" r="2.8" fill="#000000"/>
<circle cx="470.1" cy="517.3" r="2.8" fill="#f4f4f4"/>
<circle cx="470.1" cy="515.6" r="2.8" fill="#c8c8c8"/>
<circle cx="470.1" cy="513.9" r="2.8" fill="#8c8c8c"/>
<circle cx="470.1" cy="512.2" r="2.8" fill="#505050"/>
<circle cx="470.1" cy="510.5" r="2.8" fill="#000000"/>
<circle cx="476.5" cy="517.3" r="2.8" fill="#f4f4f4"/>
<circle cx="476.5" cy="515.6" r="2.8" fill="#c8c8c8"/>
<circle cx="476.5" cy="513.9" r="2.8" fill="#8c8c8c"/>
<circle cx="476.5" cy="512.2" r="2.8" fill="#505050"/>
<circle cx="476.5" cy="510.5" r="2.8" fill="#000000"/>
<circle cx="482.9" cy="513.8" r="2.8" fill="#f4f4f4"/>
<circle cx="482.9" cy="512.1" r="2.8" fill="#c8c8c8"/>
<circle cx="482.9" cy="510.4" r="2.8" fill="#8c8c8c"/>
<circle cx="482.9" cy="508.7" r="2.8" fill="#505050"/>
<circle cx="482.9" cy="507.0" r="2.8" fill="#000000"/>
<circle cx="489.3" cy="510.6" r="2.8" fill="#f4f4f4"/>
<circle cx="489.3" cy="508.9" r="2.8" fill="#c8c8c8"/>
<circle cx="489.3" cy="507.2" r="2.8" fill="#8c8c8c"/>
<circle cx="489.3" cy="505.5" r="2.8" fill="#505050"/>
<circle cx="489.3" cy="503.8" r="2.8" fill="#000000"/>
<circle cx="495.7" cy="513.8" r="2.8" fill="#f4f4f4"/>
<circle cx="495.7" cy="512.1" r="2.8" fill="#c8c8c8"/>
<circle cx="495.7" cy="510.4" r="2.8" fill="#8c8c8c"/>
<circle cx="495.7" cy="508.7" r="2.8" fill="#505050"/>
<circle cx="495.7" cy="507.0" r="2.8" fill="#000000"/>
<circle cx="502.1" cy="511.8" r="2.8" fill="#f4f4f4"/>
<circle cx="502.1" cy="510.1" r="2.8" fill="#c8c8c8"/>
<circle cx="502.1" cy="508.4" r="2.8" fill="#8c8c8c"/>
<circle cx="502.1" cy="506.7" r="2.8" fill="#505050"/>
<circle cx="502.1" cy="505.0" r="2.8" fill="#000000"/>
<circle cx="508.4" cy="512.4" r="2.8" fill="#f4f4f4"/>
<circle cx="508.4" cy="510.7" r="2.8" fill="#c8c8c8"/>
<circle cx="508.4" cy="509.0" r="2.8" fill="#8c8c8c"/>
<circle cx="508.4" cy="507.3" r="2.8" fill="#505050"/>
<circle cx="508.4" cy="505.6" r="2.8" fill="#000000"/>
<circle cx="514.8" cy="512.4" r="2.8" fill="#f4f4f4"/>
<circle cx="514.8" cy="510.7" r="2.8" fill="#c8c8c8"/>
<circle cx="514.8" cy="509.0" r="2.8" fill="#8c8c8c"/>
<circle cx="514.8" cy="507.3" r="2.8" fill="#505050"/>
<circle cx="514.8" cy="505.6" r="2.8" fill="#000000"/>
<circle cx="521.2" cy="513.3" r="2.8" fill="#f4f4f4"/>
<circle cx="521.2" cy="511.6" r="2.8" fill="#c8c8c8"/>
<circle cx="521.2" cy="509.9" r="2.8" fill="#8c8c8c"/>
<circle cx="521.2" cy="508.2" r="2.8" fill="#505050"/>
<circle cx="521.2" cy="506.5" r="2.8" fill="#000000"/>
<circle cx="527.6" cy="512.9" r="2.8" fill="#f4f4f4"/>
<circle cx="527.6" cy="511.2" r="2.8" fill="#c8c8c8"/>
<circle cx="527.6" cy="509.5" r="2.8" fill="#8c8c8c"/>
<circle cx="527.6" cy="507.8" r="2.8" fill="#505050"/>
<circle cx="527.6" cy="506.1" r="2.8" fill="#000000"/>
<circle cx="534.0" cy="513.8" r="2.8" fill="#f4f4f4"/>
<circle cx="534.0" cy="512.1" r="2.8" fill="#c8c8c8"/>
<circle cx="534.0" cy="510.4" r="2.8" fill="#8c8c8c"/>
<circle cx="534.0" cy="508.7" r="2.8" fill="#505050"/>
<circle cx="534.0" cy="507.0" r="2.8" fill="#000000"/>
<circle cx="540.4" cy="515.5" r="2.8" fill="#f4f4f4"/>
<circle cx="540.4" cy="513.8" r="2.8" fill="#c8c8c8"/>
<circle cx="540.4" cy="512.1" r="2.8" fill="#8c8c8c"/>
<circle cx="540.4" cy="510.4" r="2.8" fill="#505050"/>
<circle cx="540.4" cy="508.7" r="2.8" fill="#000000"/>
<circle cx="546.8" cy="517.3" r="2.8" fill="#f4f4f4"/>
<circle cx="546.8" cy="515.6" r="2.8" fill="#c8c8c8"/>
<circle cx="546.8" cy="513.9" r="2.8" fill="#8c8c8c"/>
<circle cx="546.8" cy="512.2" r="2.8" fill="#505050"/>
<circle cx="546.8" cy="510.5" r="2.8" fill="#000000"/>
<circle cx="553.2" cy="517.3" r="2.8" fill="#f4f4f4"/>
<circle cx="553.2" cy="515.6" r="2.8" fill="#c8c8c8"/>
<circle cx="553.2" cy="513.9" r="2.8" fill="#8c8c8c"/>
<circle cx="553.2" cy="512.2" r="2.8" fill="#505050"/>
<circle cx="553.2" cy="510.5" r="2.8" fill="#000000"/>
<circle cx="559.6" cy="516.8" r="2.8" fill="#f4f4f4"/>
<circle cx="559.6" cy="515.1" r="2.8" fill="#c8c8c8"/>
<circle cx="559.6" cy="513.4" r="2.8" fill="#8c8c8c"/>
<circle cx="559.6" cy="511.7" r="2.8" fill="#505050"/>
<circle cx="559.6" cy="510.0" r="2.8" fill="#000000"/>
<circle cx="565.9" cy="516.8" r="2.8" fill="#f4f4f4"/>
<circle cx="565.9" cy="515.1" r="2.8" fill="#c8c8c8"/>
<circle cx="565.9" cy="513.4" r="2.8" fill="#8c8c8c"/>
<circle cx="565.9" cy="511.7" r="2.8" fill="#505050"/>
<circle cx="565.9" cy="510.0" r="2.8" fill="#000000"/>
<circle cx="572.3" cy="517.3" r="2.8" fill="#f4f4f4"/>
<circle cx="572.3" cy="515.6" r="2.8" fill="#c8c8c8"/>
<circle cx="572.3" cy="513.9" r="2.8" fill="#8c8c8c"/>
<circle cx="572.3" cy="512.2" r="2.8" fill="#505050"/>
<circle cx="572.3" cy="510.5" r="2.8" fill="#000000"/>
<circle cx="578.7" cy="516.8" r="2.8" fill="#f4f4f4"/>
<circle cx="578.7" cy="515.1" r="2.8" fill="#c8c8c8"/>
<circle cx="578.7" cy="513.4" r="2.8" fill="#8c8c8c"/>
<circle cx="578.7" cy="511.7" r="2.8" fill="#505050"/>
<circle cx="578.7" cy="510.0" r="2.8" fill="#000000"/>
<circle cx="585.1" cy="515.9" r="2.8" fill="#f4f4f4"/>
<circle cx="585.1" cy="514.2" r="2.8" fill="#c8c8c8"/>
<circle cx="585.1" cy="512.5" r="2.8" fill="#8c8c8c"/>
<circle cx="585.1" cy="510.8" r="2.8" fill="#505050"/>
<circle cx="585.1" cy="509.1" r="2.8" fill="#000000"/>
<circle cx="591.5" cy="516.8" r="2.8" fill="#f4f4f4"/>
<circle cx="591.5" cy="515.1" r="2.8" fill="#c8c8c8"/>
<circle cx="591.5" cy="513.4" r="2.8" fill="#8c8c8c"/>
<circle cx="591.5" cy="511.7" r="2.8" fill="#505050"/>
<circle cx="591.5" cy="510.0" r="2.8" fill="#000000"/>
<circle cx="597.9" cy="514.1" r="2.8" fill="#f4f4f4"/>
<circle cx="597.9" cy="512.4" r="2.8" fill="#c8c8c8"/>
<circle cx="597.9" cy="510.7" r="2.8" fill="#8c8c8c"/>
<circle cx="597.9" cy="509.0" r="2.8" fill="#505050"/>
<circle cx="597.9" cy="507.3" r="2.8" fill="#000000"/>
<circle cx="604.3" cy="512.8" r="2.8" fill="#f4f4f4"/>
<circle cx="604.3" cy="511.1" r="2.8" fill="#c8c8c8"/>
<circle cx="604.3" cy="509.4" r="2.8" fill="#8c8c8c"/>
<circle cx="604.3" cy="507.7" r="2.8" fill="#505050"/>
<circle cx="604.3" cy="506.0" r="2.8" fill="#000000"/>
<circle cx="610.7" cy="511.4" r="2.8" fill="#f4f4f4"/>
<circle cx="610.7" cy="509.7" r="2.8" fill="#c8c8c8"/>
<circle cx="610.7" cy="508.0" r="2.8" fill="#8c8c8c"/>
<circle cx="610.7" cy="506.3" r="2.8" fill="#505050"/>
<circle cx="610.7" cy="504.6" r="2.8" fill="#000000"/>
<circle cx="617.1" cy="508.9" r="2.8" fill="#f4f4f4"/>
<circle cx="617.1" cy="507.2" r="2.8" fill="#c8c8c8"/>
<circle cx="617.1" cy="505.5" r="2.8" fill="#8c8c8c"/>
<circle cx="617.1" cy="503.8" r="2.8" fill="#505050"/>
<circle cx="617.1" cy="502.1" r="2.8" fill="#000000"/>
<circle cx="623.4" cy="508.9" r="2.8" fill="#f4f4f4"/>
<circle cx="623.4" cy="507.2" r="2.8" fill="#c8c8c8"/>
<circle cx="623.4" cy="505.5" r="2.8" fill="#8c8c8c"/>
<circle cx="623.4" cy="503.8" r="2.8" fill="#505050"/>
<circle cx="623.4" cy="502.1" r="2.8" fill="#000000"/>
<circle cx="674.6" cy="505.8" r="2.8" fill="#f4f4f4"/>
<circle cx="674.6" cy="504.1" r="2.8" fill="#c8c8c8"/>
<circle cx="674.6" cy="502.4" r="2.8" fill="#8c8c8c"/>
<circle cx="674.6" cy="500.7" r="2.8" fill="#505050"/>
<circle cx="674.6" cy="499.0" r="2.8" fill="#000000"/>
<circle cx="680.9" cy="508.9" r="2.8" fill="#f4f4f4"/>
<circle cx="680.9" cy="507.2" r="2.8" fill="#c8c8c8"/>
<circle cx="680.9" cy="505.5" r="2.8" fill="#8c8c8c"/>
<circle cx="680.9" cy="503.8" r="2.8" fill="#505050"/>
<circle cx="680.9" cy="502.1" r="2.8" fill="#000000"/>
<circle cx="687.3" cy="508.9" r="2.8" fill="#f4f4f4"/>
<circle cx="687.3" cy="507.2" r="2.8" fill="#c8c8c8"/>
<circle cx="687.3" cy="505.5" r="2.8" fill="#8c8c8c"/>
<circle cx="687.3" cy="503.8" r="2.8" fill="#505050"/>
<circle cx="687.3" cy="502.1" r="2.8" fill="#000000"/>
<circle cx="693.7" cy="508.9" r="2.8" fill="#f4f4f4"/>
<circle cx="693.7" cy="507.2" r="2.8" fill="#c8c8c8"/>
<circle cx="693.7" cy="505.5" r="2.8" fill="#8c8c8c"/>
<circle cx="693.7" cy="503.8" r="2.8" fill="#505050"/>
<circle cx="693.7" cy="502.1" r="2.8" fill="#000000"/>
<circle cx="700.1" cy="511.4" r="2.8" fill="#f4f4f4"/>
<circle cx="700.1" cy="509.7" r="2.8" fill="#c8c8c8"/>
<circle cx="700.1" cy="508.0" r="2.8" fill="#8c8c8c"/>
<circle cx="700.1" cy="506.3" r="2.8" fill="#505050"/>
<circle cx="700.1" cy="504.6" r="2.8" fill="#000000"/>
<circle cx="706.5" cy="511.9" r="2.8" fill="#f4f4f4"/>
<circle cx="706.5" cy="510.2" r="2.8" fill="#c8c8c8"/>
<circle cx="706.5" cy="508.5" r="2.8" fill="#8c8c8c"/>
<circle cx="706.5" cy="506.8" r="2.8" fill="#505050"/>
<circle cx="706.5" cy="505.1" r="2.8" fill="#000000"/>
<circle cx="712.9" cy="512.8" r="2.8" fill="#f4f4f4"/>
<circle cx="712.9" cy="511.1" r="2.8" fill="#c8c8c8"/>
<circle cx="712.9" cy="509.4" r="2.8" fill="#8c8c8c"/>
<circle cx="712.9" cy="507.7" r="2.8" fill="#505050"/>
<circle cx="712.9" cy="506.0" r="2.8" fill="#000000"/>
<circle cx="719.3" cy="513.1" r="2.8" fill="#f4f4f4"/>
<circle cx="719.3" cy="511.4" r="2.8" fill="#c8c8c8"/>
<circle cx="719.3" cy="509.7" r="2.8" fill="#8c8c8c"/>
<circle cx="719.3" cy="508.0" r="2.8" fill="#505050"/>
<circle cx="719.3" cy="506.3" r="2.8" fill="#000000"/>
<circle cx="725.7" cy="512.8" r="2.8" fill="#f4f4f4"/>
<circle cx="725.7" cy="511.1" r="2.8" fill="#c8c8c8"/>
<circle cx="725.7" cy="509.4" r="2.8" fill="#8c8c8c"/>
<circle cx="725.7" cy="507.7" r="2.8" fill="#505050"/>
<circle cx="725.7" cy="506.0" r="2.8" fill="#000000"/>
<circle cx="732.1" cy="512.4" r="2.8" fill="#f4f4f4"/>
<circle cx="732.1" cy="510.7" r="2.8" fill="#c8c8c8"/>
<circle cx="732.1" cy="509.0" r="2.8" fill="#8c8c8c"/>
<circle cx="732.1" cy="507.3" r="2.8" fill="#505050"/>
<circle cx="732.1" cy="505.6" r="2.8" fill="#000000"/>
<circle cx="738.4" cy="512.4" r="2.8" fill="#f4f4f4"/>
<circle cx="738.4" cy="510.7" r="2.8" fill="#c8c8c8"/>
<circle cx="738.4" cy="509.0" r="2.8" fill="#8c8c8c"/>
<circle cx="738.4" cy="507.3" r="2.8" fill="#505050"/>
<circle cx="738.4" cy="505.6" r="2.8" fill="#000000"/>
<circle cx="744.8" cy="513.6" r="2.8" fill="#f4f4f4"/>
<circle cx="744.8" cy="511.9" r="2.8" fill="#c8c8c8"/>
<circle cx="744.8" cy="510.2" r="2.8" fill="#8c8c8c"/>
<circle cx="744.8" cy="508.5" r="2.8" fill="#505050"/>
<circle cx="744.8" cy="506.8" r="2.8" fill="#000000"/>
<circle cx="751.2" cy="514.6" r="2.8" fill="#f4f4f4"/>
<circle cx="751.2" cy="512.9" r="2.8" fill="#c8c8c8"/>
<circle cx="751.2" cy="511.2" r="2.8" fill="#8c8c8c"/>
<circle cx="751.2" cy="509.5" r="2.8" fill="#505050"/>
<circle cx="751.2" cy="507.8" r="2.8" fill="#000000"/>
<circle cx="757.6" cy="512.9" r="2.8" fill="#f4f4f4"/>
<circle cx="757.6" cy="511.2" r="2.8" fill="#c8c8c8"/>
<circle cx="757.6" cy="509.5" r="2.8" fill="#8c8c8c"/>
<circle cx="757.6" cy="507.8" r="2.8" fill="#505050"/>
<circle cx="757.6" cy="506.1" r="2.8" fill="#000000"/>
<circle cx="764.0" cy="511.3" r="2.8" fill="#f4f4f4"/>
<circle cx="764.0" cy="509.6" r="2.8" fill="#c8c8c8"/>
<circle cx="764.0" cy="507.9" r="2.8" fill="#8c8c8c"/>
<circle cx="764.0" cy="506.2" r="2.8" fill="#505050"/>
<circle cx="764.0" cy="504.5" r="2.8" fill="#000000"/>
<circle cx="770.4" cy="512.2" r="2.8" fill="#f4f4f4"/>
<circle cx="770.4" cy="510.5" r="2.8" fill="#c8c8c8"/>
<circle cx="770.4" cy="508.8" r="2.8" fill="#8c8c8c"/>
<circle cx="770.4" cy="507.1" r="2.8" fill="#505050"/>
<circle cx="770.4" cy="505.4" r="2.8" fill="#000000"/>
<circle cx="776.8" cy="514.0" r="2.8" fill="#f4f4f4"/>
<circle cx="776.8" cy="512.3" r="2.8" fill="#c8c8c8"/>
<circle cx="776.8" cy="510.6" r="2.8" fill="#8c8c8c"/>
<circle cx="776.8" cy="508.9" r="2.8" fill="#505050"/>
<circle cx="776.8" cy="507.2" r="2.8" fill="#000000"/>
<circle cx="783.2" cy="513.7" r="2.8" fill="#f4f4f4"/>
<circle cx="783.2" cy="512.0" r="2.8" fill="#c8c8c8"/>
<circle cx="783.2" cy="510.3" r="2.8" fill="#8c8c8c"/>
<circle cx="783.2" cy="508.6" r="2.8" fill="#505050"/>
<circle cx="783.2" cy="506.9" r="2.8" fill="#000000"/>
<circle cx="789.6" cy="515.7" r="2.8" fill="#f4f4f4"/>
<circle cx="789.6" cy="514.0" r="2.8" fill="#c8c8c8"/>
<circle cx="789.6" cy="512.3" r="2.8" fill="#8c8c8c"/>
<circle cx="789.6" cy="510.6" r="2.8" fill="#505050"/>
<circle cx="789.6" cy="508.9" r="2.8" fill="#000000"/>
<circle cx="795.9" cy="516.2" r="2.8" fill="#f4f4f4"/>
<circle cx="795.9" cy="514.5" r="2.8" fill="#c8c8c8"/>
<circle cx="795.9" cy="512.8" r="2.8" fill="#8c8c8c"/>
<circle cx="795.9" cy="511.1" r="2.8" fill="#505050"/>
<circle cx="795.9" cy="509.4" r="2.8" fill="#000000"/>
<circle cx="802.3" cy="516.2" r="2.8" fill="#f4f4f4"/>
<circle cx="802.3" cy="514.5" r="2.8" fill="#c8c8c8"/>
<circle cx="802.3" cy="512.8" r="2.8" fill="#8c8c8c"/>
<circle cx="802.3" cy="511.1" r="2.8" fill="#505050"/>
<circle cx="802.3" cy="509.4" r="2.8" fill="#000000"/>
<circle cx="808.7" cy="512.2" r="2.8" fill="#f4f4f4"/>
<circle cx="808.7" cy="510.5" r="2.8" fill="#c8c8c8"/>
<circle cx="808.7" cy="508.8" r="2.8" fill="#8c8c8c"/>
<circle cx="808.7" cy="507.1" r="2.8" fill="#505050"/>
<circle cx="808.7" cy="505.4" r="2.8" fill="#000000"/>
<circle cx="815.1" cy="512.9" r="2.8" fill="#f4f4f4"/>
<circle cx="815.1" cy="511.2" r="2.8" fill="#c8c8c8"/>
<circle cx="815.1" cy="509.5" r="2.8" fill="#8c8c8c"/>
<circle cx="815.1" cy="507.8" r="2.8" fill="#505050"/>
<circle cx="815.1" cy="506.1" r="2.8" fill="#000000"/>
<circle cx="821.5" cy="514.6" r="2.8" fill="#f4f4f4"/>
<circle cx="821.5" cy="512.9" r="2.8" fill="#c8c8c8"/>
<circle cx="821.5" cy="511.2" r="2.8" fill="#8c8c8c"/>
<circle cx="821.5" cy="509.5" r="2.8" fill="#505050"/>
<circle cx="821.5" cy="507.8" r="2.8" fill="#000000"/>
<circle cx="827.9" cy="516.2" r="2.8" fill="#f4f4f4"/>
<circle cx="827.9" cy="514.5" r="2.8" fill="#c8c8c8"/>
<circle cx="827.9" cy="512.8" r="2.8" fill="#8c8c8c"/>
<circle cx="827.9" cy="511.1" r="2.8" fill="#505050"/>
<circle cx="827.9" cy="509.4" r="2.8" fill="#000000"/>
<circle cx="834.3" cy="516.2" r="2.8" fill="#f4f4f4"/>
<circle cx="834.3" cy="514.5" r="2.8" fill="#c8c8c8"/>
<circle cx="834.3" cy="512.8" r="2.8" fill="#8c8c8c"/>
<circle cx="834.3" cy="511.1" r="2.8" fill="#505050"/>
<circle cx="834.3" cy="509.4" r="2.8" fill="#000000"/>
<circle cx="840.7" cy="516.6" r="2.8" fill="#f4f4f4"/>
<circle cx="840.7" cy="514.9" r="2.8" fill="#c8c8c8"/>
<circle cx="840.7" cy="513.2" r="2.8" fill="#8c8c8c"/>
<circle cx="840.7" cy="511.5" r="2.8" fill="#505050"/>
<circle cx="840.7" cy="509.8" r="2.8" fill="#000000"/>
<circle cx="629.8" cy="507.6" r="2.8" fill="#f4f4f4"/>
<circle cx="629.8" cy="505.9" r="2.8" fill="#c8c8c8"/>
<circle cx="629.8" cy="504.2" r="2.8" fill="#8c8c8c"/>
<circle cx="636.2" cy="506.8" r="2.8" fill="#f4f4f4"/>
<circle cx="636.2" cy="505.1" r="2.8" fill="#c8c8c8"/>
<circle cx="642.6" cy="506.0" r="2.8" fill="#ffffff"/>
<circle cx="668.2" cy="501.6" r="2.8" fill="#ffffff"/>
<circle cx="636.2" cy="468.7" r="2.8" fill="#c8c8c8"/>
<circle cx="636.2" cy="467.0" r="2.8" fill="#a0a0a0"/>
<circle cx="642.6" cy="469.9" r="2.8" fill="#c8c8c8"/>
<circle cx="642.6" cy="468.2" r="2.8" fill="#606060"/>
<circle cx="649.0" cy="470.4" r="2.8" fill="#ffffff"/>
<circle cx="649.0" cy="468.7" r="2.8" fill="#909090"/>
<circle cx="655.4" cy="473.4" r="2.8" fill="#ffffff"/>
<circle cx="655.4" cy="471.7" r="2.8" fill="#000000"/>
<circle cx="661.8" cy="471.2" r="2.8" fill="#ffffff"/>
<circle cx="354.6" cy="444.1" r="2.8" fill="#b02828"/>
<circle cx="361.7" cy="442.3" r="2.8" fill="#b02828"/>
<circle cx="368.0" cy="441.6" r="2.8" fill="#b02828"/>
<circle cx="374.4" cy="441.6" r="2.8" fill="#b02828"/>
<circle cx="381.4" cy="444.1" r="2.8" fill="#b02828"/>
<circle cx="387.4" cy="444.1" r="2.8" fill="#b02828"/>
<circle cx="393.4" cy="442.3" r="2.8" fill="#b02828"/>
<circle cx="400.4" cy="442.3" r="2.8" fill="#b02828"/>
<circle cx="406.8" cy="441.6" r="2.8" fill="#b02828"/>
<circle cx="413.1" cy="444.1" r="2.8" fill="#b02828"/>
<circle cx="419.8" cy="444.1" r="2.8" fill="#b02828"/>
<circle cx="426.1" cy="444.1" r="2.8" fill="#b02828"/>
<circle cx="432.1" cy="444.1" r="2.8" fill="#b02828"/>
<circle cx="438.5" cy="444.1" r="2.8" fill="#b02828"/>
<circle cx="444.8" cy="445.8" r="2.8" fill="#b02828"/>
<circle cx="450.8" cy="496.9" r="2.8" fill="#b02828"/>
<circle cx="457.1" cy="496.9" r="2.8" fill="#b02828"/>
<circle cx="463.8" cy="498.0" r="2.8" fill="#b02828"/>
<circle cx="470.1" cy="499.7" r="2.8" fill="#b02828"/>
<circle cx="476.5" cy="446.9" r="2.8" fill="#b02828"/>
<circle cx="483.5" cy="449.4" r="2.8" fill="#b02828"/>
<circle cx="489.5" cy="449.4" r="2.8" fill="#b02828"/>
<circle cx="495.8" cy="448.3" r="2.8" fill="#b02828"/>
<circle cx="502.5" cy="447.6" r="2.8" fill="#b02828"/>
<circle cx="508.9" cy="446.9" r="2.8" fill="#b02828"/>
<circle cx="515.2" cy="446.9" r="2.8" fill="#b02828"/>
<circle cx="521.5" cy="446.9" r="2.8" fill="#b02828"/>
<circle cx="528.2" cy="446.9" r="2.8" fill="#b02828"/>
<circle cx="534.2" cy="446.9" r="2.8" fill="#b02828"/>
<circle cx="540.6" cy="446.9" r="2.8" fill="#b02828"/>
<circle cx="547.6" cy="446.9" r="2.8" fill="#b02828"/>
<circle cx="553.9" cy="446.9" r="2.8" fill="#b02828"/>
<circle cx="559.9" cy="446.9" r="2.8" fill="#b02828"/>
<circle cx="565.9" cy="445.8" r="2.8" fill="#b02828"/>
<circle cx="573.0" cy="445.8" r="2.8" fill="#b02828"/>
<circle cx="579.3" cy="445.8" r="2.8" fill="#b02828"/>
<circle cx="585.6" cy="445.8" r="2.8" fill="#b02828"/>
<circle cx="592.7" cy="445.8" r="2.8" fill="#b02828"/>
<circle cx="598.7" cy="445.8" r="2.8" fill="#b02828"/>
<circle cx="591.8" cy="445.8" r="2.8" fill="#b02828"/>
<circle cx="598.8" cy="445.8" r="2.8" fill="#b02828"/>
<circle cx="605.8" cy="445.8" r="2.8" fill="#b02828"/>
<circle cx="611.8" cy="445.8" r="2.8" fill="#b02828"/>
<circle cx="618.2" cy="445.8" r="2.8" fill="#b02828"/>
<circle cx="624.5" cy="445.8" r="2.8" fill="#b02828"/>
<circle cx="630.8" cy="445.8" r="2.8" fill="#b02828"/>
<circle cx="636.8" cy="445.8" r="2.8" fill="#b02828"/>
<circle cx="642.8" cy="445.8" r="2.8" fill="#b02828"/>
<circle cx="649.2" cy="446.9" r="2.8" fill="#b02828"/>
<circle cx="655.5" cy="446.9" r="2.8" fill="#b02828"/>
<circle cx="662.2" cy="446.9" r="2.8" fill="#b02828"/>
<circle cx="668.2" cy="448.3" r="2.8" fill="#b02828"/>
<circle cx="674.5" cy="449.4" r="2.8" fill="#b02828"/>
<circle cx="680.8" cy="449.4" r="2.8" fill="#b02828"/>
<circle cx="687.2" cy="449.4" r="2.8" fill="#b02828"/>
<circle cx="693.9" cy="449.4" r="2.8" fill="#b02828"/>
<circle cx="700.2" cy="450.4" r="2.8" fill="#b02828"/>
<circle cx="707.3" cy="452.2" r="2.8" fill="#b02828"/>
<circle cx="713.2" cy="452.9" r="2.8" fill="#b02828"/>
<circle cx="719.6" cy="489.9" r="2.8" fill="#b02828"/>
<circle cx="726.3" cy="490.6" r="2.8" fill="#b02828"/>
<circle cx="732.6" cy="491.6" r="2.8" fill="#b02828"/>
<circle cx="738.9" cy="491.6" r="2.8" fill="#b02828"/>
<circle cx="745.6" cy="492.7" r="2.8" fill="#b02828"/>
<circle cx="752.0" cy="492.7" r="2.8" fill="#b02828"/>
<circle cx="758.0" cy="451.1" r="2.8" fill="#b02828"/>
<circle cx="764.3" cy="451.1" r="2.8" fill="#b02828"/>
<circle cx="770.6" cy="450.1" r="2.8" fill="#b02828"/>
<circle cx="777.3" cy="450.1" r="2.8" fill="#b02828"/>
<circle cx="783.7" cy="450.4" r="2.8" fill="#b02828"/>
<circle cx="790.0" cy="451.1" r="2.8" fill="#b02828"/>
<circle cx="796.7" cy="451.1" r="2.8" fill="#b02828"/>
<circle cx="803.0" cy="451.8" r="2.8" fill="#b02828"/>
<circle cx="809.4" cy="445.8" r="2.8" fill="#b02828"/>
<circle cx="815.7" cy="445.8" r="2.8" fill="#b02828"/>
<circle cx="822.4" cy="445.8" r="2.8" fill="#b02828"/>
<circle cx="828.7" cy="445.8" r="2.8" fill="#b02828"/>
<circle cx="835.4" cy="445.8" r="2.8" fill="#b02828"/>
<circle cx="840.7" cy="445.8" r="2.8" fill="#b02828"/>
</g>
<path d="M349,456.5H841M349,477.5H841M349,496.5H841M361.5,438.5V515.5M380.5,438.5V515.5M400.5,438.5V515.5M419.5,438.5V515.5M438.5,438.5V515.5M457.5,438.5V515.5M476.5,438.5V515.5M495.5,438.5V515.5M515.5,438.5V515.5M534.5,438.5V515.5M553.5,438.5V515.5M572.5,438.5V515.5M591.5,438.5V515.5M610.5,438.5V515.5M630.5,438.5V515.5M649.5,438.5V515.5M668.5,438.5V515.5M687.5,438.5V515.5M706.5,438.5V515.5M725.5,438.5V515.5M745.5,438.5V515.5M764.5,438.5V515.5M783.5,438.5V515.5M802.5,438.5V515.5M821.5,438.5V515.5M349.5,438.5V515.5" stroke="#fff" stroke-opacity="0.3" stroke-width="1" fill="none" shape-rendering="crispEdges"/>
<path d="M349,456.5H841M349,477.5H841M349,496.5H841M361.5,438.5V515.5M380.5,438.5V515.5M400.5,438.5V515.5M419.5,438.5V515.5M438.5,438.5V515.5M457.5,438.5V515.5M476.5,438.5V515.5M495.5,438.5V515.5M515.5,438.5V515.5M534.5,438.5V515.5M553.5,438.5V515.5M572.5,438.5V515.5M591.5,438.5V515.5M610.5,438.5V515.5M630.5,438.5V515.5M649.5,438.5V515.5M668.5,438.5V515.5M687.5,438.5V515.5M706.5,438.5V515.5M725.5,438.5V515.5M745.5,438.5V515.5M764.5,438.5V515.5M783.5,438.5V515.5M802.5,438.5V515.5M821.5,438.5V515.5M349.5,438.5V515.5" stroke="#000" stroke-width="1" stroke-dasharray="2,2" fill="none" shape-rendering="crispEdges"/>
<path d="M349,458.2 L355.7,461.7 L368.0,475.8 L380.4,509.2 L387.4,482.8 L399.7,486.3 L406.8,511.0 L413.8,511.7 L424.4,507.5 L432.1,489.2 L438.5,511.0 L444.8,491.6 L452.5,511.7 L470.1,512.7 L477.2,511.0 L482.5,482.8 L491.3,475.8 L501.8,475.1 L512.4,474.0 L526.5,475.1 L535.3,475.8 L547.6,511.0 L558.2,512.7 L572.3,512.7 L581.1,507.5 L586.3,484.6 L593.4,482.1 L590.0,482.8 L597.0,474.0 L611.1,471.5 L625.2,471.5 L639.3,470.5 L653.4,471.5 L667.5,474.0 L681.5,475.1 L695.6,477.5 L709.7,479.3 L720.3,482.1 L730.8,480.4 L741.4,478.6 L752.0,482.8 L764.3,475.1 L773.1,475.8 L790.7,476.5 L801.3,482.8 L810.1,475.1 L817.1,476.5 L825.9,488.1 L834.7,496.2 L841.8,493.4" stroke="#ffa000" stroke-width="1.8" fill="none" clip-path="url(#cCb)"/>
<rect x="349" y="438.5" width="492" height="77.0" fill="none" stroke="#000" stroke-width="1.3"/>
<g clip-path="url(#cCl)">
<path d="M349,526 L841,526 L841,604 L349,604Z" fill="#383838"/>
<path d="M349,604 L349,538 L354,526 L382,526 L375,528 L367,532 L360,542 L354,557 L350,575Z" fill="#4d4d4d"/>
<path d="M381,526 L400,526 L395,530 L385,530Z" fill="#4a4a4a"/>
<path d="M349,526 L354,526 L349,532Z" fill="#87cefa"/>
<path d="M472,526 L476.9,526.2 L487.5,555.1 L492.7,559.5 L499.8,556.9 L506.8,557.8 L515.6,548.1 L524.4,549 L534.9,545.5 L541.9,530.5 L547.2,526.2Z" fill="#5a5a5a"/>
<path d="M484,526 L534,526 L530,528.5 L488,528.5Z" fill="#87cefa"/>
<path d="M541.9,530.5 L547,526 L617,526 L612,535 L602,535 L590,533 L575,534 L560,535 L550,533Z" fill="#4c4c4c"/>
<path d="M575,533 L590,530.5 L595.3,526.7 L615.5,526.2 L622.5,534.1 L626,539.3 L626,572.7 L634,604 L630.4,604 L623.4,572.7 L614.6,548.1 L602.3,535.8 L590,535Z" fill="#6b6b6b"/>
<path d="M626,539.3 L630.4,542 L642.7,546.4 L647.1,554.3 L650.6,561.3 L653.3,554.3 L655.9,549 L659.4,561.3 L662,597.3 L662,604 L634,604 L626,572.7Z" fill="#9a9a9a"/>
<path d="M614.6,526.2 L618.1,526.2 L631.3,541.1 L646.2,549 L651.5,562.2 L663.8,590.3 L668.2,597.3 L668.2,604 L662,604 L661.2,597.3 L648,555.1 L632.2,546.4 L625.1,537.6 L621.4,527.9Z" fill="#ffffff"/>
<path d="M617.2,526.2 L679.6,526.2 L674.4,534.1 L670,555.1 L669.1,604 L668.2,604 L663.8,590.3 L651.5,562.2 L646.2,549 L631.3,541.1 L625.1,533.2Z" fill="#87cefa"/>
<path d="M662.8,526.2 L679.6,526.2 L674.4,534.1 L670,555.1 L669.1,604 L668.2,604 L663.8,590.3 L662.8,588Z" fill="#7dbdec"/>
<path d="M669.1,604 L670,555.1 L674.4,534.1 L679.6,526.2 L841,526 L841,526 L828,526 L821.3,529.3 L809.3,536.7 L802.7,533.3 L796,528.7 L784,536 L774.7,544 L770.7,546 L764,544.7 L761.3,541.3 L757.3,536.7 L748,538.7 L739.4,542 L730.6,539.3 L720,539.3 L713,548.1 L704.2,558.7 L699,572.7 L688.4,578 L676.1,597.3 L670.8,604Z" fill="#4a4a4a"/>
<path d="M835,526 L841,526 L841,528 L835,527Z" fill="#87cefa"/>
<path d="M350.3,563.3 L355.7,559.3 L361,563.3 L367.7,561.3 L375.7,556 L383.7,560 L389,564 L397,572 L402.3,575.3 L410.3,576 L415.7,581.3 L421,586.7 L427.7,589.3 L435.7,593.3 L442.3,597.3 L448.8,603 L471.6,603 L480.4,593.8 L489.2,574.5 L496.2,571 L502.4,567.5 L508.5,575.4 L514.7,560.4 L521.7,561.3 L527.9,557.8 L533.1,556.9 L535.8,560.4 L540.2,590.3 L545.4,595.6 L552.5,578 L559.5,565.7 L566.5,560.4 L573.6,544.6 L580.6,532.3 L585.9,528.8 L591.1,531.4 L598.2,526.2 L617,526.5 L631.3,541.1 L646.2,549 L651.5,562.2 L663.8,590.3 L668,596 L676,600.5 L688,601.5 L700,600 L712,601 L723,602.5 L745,603 L752,601.3 L757.3,596 L764,592.7 L770.7,590 L776,588.7 L784,584 L789.3,586 L796,592 L802.7,596 L809.3,596.7 L814.7,596 L821.3,593.3 L828,593.3 L834.7,594.7 L841.3,595.3" stroke="#f0f0f0" stroke-width="1.2" fill="none"/>
<path d="M590.0,576.2 L597.0,581.5 L604.1,539.3 L611.1,555.1 L623.4,572.7 L626.9,551.6 L635.7,572.7 L648.0,586.8 L660.3,597.3 L668.2,602.6 L764,602.7 L777.3,597.3 L786.7,586.7 L793.3,592 L800,600 L806.7,602.7" stroke="#a0a0a0" stroke-width="1.1" fill="none"/>
<path d="M483.9,602.6 L495.4,586.8 L502.4,592.9 L514.7,580.6 L524.4,589.4 L533.1,602.6" stroke="#909090" stroke-width="1.1" fill="none"/>
<rect x="360.0" y="596.4" width="3" height="7.6" rx="1.5" fill="#ffb800"/>
<rect x="366.4" y="570.3" width="3" height="33.7" rx="1.5" fill="#ffb800"/>
<rect x="372.8" y="552.4" width="3" height="51.6" rx="1.5" fill="#ffb800"/>
<rect x="379.2" y="546.6" width="3" height="57.4" rx="1.5" fill="#ffb800"/>
<rect x="385.6" y="555.2" width="3" height="48.8" rx="1.5" fill="#ffb800"/>
<rect x="391.9" y="555.2" width="3" height="48.8" rx="1.5" fill="#ffb800"/>
<rect x="398.3" y="552.4" width="3" height="51.6" rx="1.5" fill="#ffb800"/>
<rect x="404.7" y="545.3" width="3" height="58.7" rx="1.5" fill="#ffb800"/>
<rect x="411.1" y="544.7" width="3" height="59.3" rx="1.5" fill="#ffb800"/>
<rect x="417.5" y="547.5" width="3" height="56.5" rx="1.5" fill="#ffb800"/>
<rect x="423.9" y="549.1" width="3" height="54.9" rx="1.5" fill="#ffb800"/>
<rect x="430.3" y="553.0" width="3" height="51.0" rx="1.5" fill="#ffb800"/>
<rect x="436.7" y="544.7" width="3" height="59.3" rx="1.5" fill="#ffb800"/>
<rect x="443.1" y="552.4" width="3" height="51.6" rx="1.5" fill="#ffb800"/>
<rect x="449.4" y="544.7" width="3" height="59.3" rx="1.5" fill="#ffb800"/>
<rect x="455.8" y="539.8" width="3" height="64.2" rx="1.5" fill="#ffb800"/>
<rect x="462.2" y="534.3" width="3" height="69.7" rx="1.5" fill="#ffb800"/>
<rect x="468.6" y="531.5" width="3" height="72.5" rx="1.5" fill="#ffb800"/>
<rect x="475.0" y="541.4" width="3" height="62.6" rx="1.5" fill="#ffb800"/>
<rect x="481.4" y="579.0" width="3" height="25.0" rx="1.5" fill="#ffb800"/>
<rect x="487.8" y="600.2" width="3" height="3.8" rx="1.5" fill="#ffb800"/>
<rect x="494.2" y="591.4" width="3" height="12.6" rx="1.5" fill="#ffb800"/>
<rect x="500.6" y="598.3" width="3" height="5.7" rx="1.5" fill="#ffb800"/>
<rect x="506.9" y="600.2" width="3" height="3.8" rx="1.5" fill="#ffb800"/>
<rect x="513.3" y="596.4" width="3" height="7.6" rx="1.5" fill="#ffb800"/>
<rect x="519.7" y="589.2" width="3" height="14.8" rx="1.5" fill="#ffb800"/>
<rect x="526.1" y="584.6" width="3" height="19.4" rx="1.5" fill="#ffb800"/>
<rect x="532.5" y="590.9" width="3" height="13.1" rx="1.5" fill="#ffb800"/>
<rect x="538.9" y="559.8" width="3" height="44.2" rx="1.5" fill="#ffb800"/>
<rect x="545.3" y="545.3" width="3" height="58.7" rx="1.5" fill="#ffb800"/>
<rect x="551.7" y="546.1" width="3" height="57.9" rx="1.5" fill="#ffb800"/>
<rect x="558.1" y="534.3" width="3" height="69.7" rx="1.5" fill="#ffb800"/>
<rect x="564.4" y="534.3" width="3" height="69.7" rx="1.5" fill="#ffb800"/>
<rect x="570.8" y="538.7" width="3" height="65.3" rx="1.5" fill="#ffb800"/>
<rect x="577.2" y="548.8" width="3" height="55.2" rx="1.5" fill="#ffb800"/>
<rect x="583.6" y="555.7" width="3" height="48.3" rx="1.5" fill="#ffb800"/>
<rect x="590.0" y="558.5" width="3" height="45.5" rx="1.5" fill="#ffb800"/>
<rect x="596.4" y="578.0" width="3" height="26.0" rx="1.5" fill="#ffb800"/>
<rect x="602.8" y="588.5" width="3" height="15.5" rx="1.5" fill="#ffb800"/>
<rect x="609.2" y="596.5" width="3" height="7.5" rx="1.5" fill="#ffb800"/>
<rect x="705.0" y="598.2" width="3" height="5.8" rx="1.5" fill="#ffb800"/>
<rect x="711.4" y="595.2" width="3" height="8.8" rx="1.5" fill="#ffb800"/>
<rect x="717.8" y="585.4" width="3" height="18.6" rx="1.5" fill="#ffb800"/>
<rect x="724.2" y="591.7" width="3" height="12.3" rx="1.5" fill="#ffb800"/>
<rect x="730.6" y="594.2" width="3" height="9.8" rx="1.5" fill="#ffb800"/>
<rect x="736.9" y="594.2" width="3" height="9.8" rx="1.5" fill="#ffb800"/>
<rect x="743.3" y="588.5" width="3" height="15.5" rx="1.5" fill="#ffb800"/>
<rect x="749.7" y="575.3" width="3" height="28.7" rx="1.5" fill="#ffb800"/>
<rect x="756.1" y="579.3" width="3" height="24.7" rx="1.5" fill="#ffb800"/>
<rect x="762.5" y="591.3" width="3" height="12.7" rx="1.5" fill="#ffb800"/>
<rect x="768.9" y="590.7" width="3" height="13.3" rx="1.5" fill="#ffb800"/>
<rect x="775.3" y="585.3" width="3" height="18.7" rx="1.5" fill="#ffb800"/>
<rect x="781.7" y="586.0" width="3" height="18.0" rx="1.5" fill="#ffb800"/>
<rect x="788.1" y="581.3" width="3" height="22.7" rx="1.5" fill="#ffb800"/>
<rect x="794.4" y="569.3" width="3" height="34.7" rx="1.5" fill="#ffb800"/>
<rect x="800.8" y="567.3" width="3" height="36.7" rx="1.5" fill="#ffb800"/>
<rect x="807.2" y="585.3" width="3" height="18.7" rx="1.5" fill="#ffb800"/>
<rect x="813.6" y="579.3" width="3" height="24.7" rx="1.5" fill="#ffb800"/>
<rect x="820.0" y="565.3" width="3" height="38.7" rx="1.5" fill="#ffb800"/>
<rect x="826.4" y="553.3" width="3" height="50.7" rx="1.5" fill="#ffb800"/>
<rect x="832.8" y="550.7" width="3" height="53.3" rx="1.5" fill="#ffb800"/>
<rect x="839.2" y="554.7" width="3" height="49.3" rx="1.5" fill="#ffb800"/>
</g>
<path d="M349,545.5H841M349,564.5H841M349,584.5H841M361.5,525.5V602.5M380.5,525.5V602.5M400.5,525.5V602.5M419.5,525.5V602.5M438.5,525.5V602.5M457.5,525.5V602.5M476.5,525.5V602.5M495.5,525.5V602.5M515.5,525.5V602.5M534.5,525.5V602.5M553.5,525.5V602.5M572.5,525.5V602.5M591.5,525.5V602.5M610.5,525.5V602.5M630.5,525.5V602.5M649.5,525.5V602.5M668.5,525.5V602.5M687.5,525.5V602.5M706.5,525.5V602.5M725.5,525.5V602.5M745.5,525.5V602.5M764.5,525.5V602.5M783.5,525.5V602.5M802.5,525.5V602.5M821.5,525.5V602.5M349.5,525.5V602.5" stroke="#fff" stroke-opacity="0.07" stroke-width="1" fill="none" shape-rendering="crispEdges"/>
<path d="M349,545.5H841M349,564.5H841M349,584.5H841M361.5,525.5V602.5M380.5,525.5V602.5M400.5,525.5V602.5M419.5,525.5V602.5M438.5,525.5V602.5M457.5,525.5V602.5M476.5,525.5V602.5M495.5,525.5V602.5M515.5,525.5V602.5M534.5,525.5V602.5M553.5,525.5V602.5M572.5,525.5V602.5M591.5,525.5V602.5M610.5,525.5V602.5M630.5,525.5V602.5M649.5,525.5V602.5M668.5,525.5V602.5M687.5,525.5V602.5M706.5,525.5V602.5M725.5,525.5V602.5M745.5,525.5V602.5M764.5,525.5V602.5M783.5,525.5V602.5M802.5,525.5V602.5M821.5,525.5V602.5M349.5,525.5V602.5" stroke="#000" stroke-width="1" stroke-dasharray="2,2" fill="none" shape-rendering="crispEdges"/>
<rect x="349" y="525.5" width="492" height="77.0" fill="none" stroke="#000" stroke-width="1.5"/>
<path d="M349,603.5H841" stroke="#87cefa" stroke-width="1"/>
<path d="M343.5,420.4L349.9,415.6M349.2,419.2L356.5,415.9M355.2,418.2L362.9,416.1M361.5,417.6L369.4,416.2M367.9,417.6L375.8,416.2M374.4,418.2L382.1,416.1M382.1,420.7L388.2,415.5M388.6,420.8L394.6,415.5M395.4,421.3L400.9,415.4M401.9,421.3L407.2,415.4M408.2,421.3L413.6,415.4M415.0,421.6L419.9,415.3M423.2,422.6L425.9,415.1M428.3,422.0L432.6,415.2M435.9,422.6L438.7,415.1M442.5,422.7L445.0,415.1M448.9,422.7L451.4,415.1M455.3,422.7L457.8,415.1M462.0,422.8L464.1,415.1M468.8,422.9L470.4,415.0M475.4,422.9L476.8,415.0M482.0,422.9L483.1,415.0M488.6,423.0L489.4,415.0M494.5,422.9L495.9,415.0M501.2,422.9L502.3,415.0M507.9,423.0L508.6,415.0M514.6,423.0L514.9,415.0M520.1,422.9L521.5,415.0M526.5,422.9L527.9,415.0M534.0,423.0L534.0,415.0M540.4,423.0L540.4,415.0M546.8,423.0L546.8,415.0M553.4,423.0L553.1,415.0M560.7,422.9L559.3,415.0M567.6,422.8L565.6,415.1M572.9,423.0L572.2,415.0M579.3,423.0L578.6,415.0M586.8,422.8L584.7,415.1M593.7,422.6L591.0,415.1M600.6,422.4L597.3,415.1M607.3,422.2L603.6,415.2M613.7,422.2L610.0,415.2M620.1,422.2L616.4,415.2M626.7,422.1L622.7,415.2M633.1,422.1L629.1,415.2M639.5,422.1L635.5,415.2M645.7,422.2L641.9,415.2M651.7,422.4L648.4,415.1M656.0,423.0L655.3,415.0M661.8,423.0L661.8,415.0M667.6,423.0L668.3,415.0M670.4,421.5L675.5,415.4M674.8,418.7L682.4,416.0M680.8,416.5L688.8,416.5M687.2,416.2L695.2,416.6M693.6,415.9L701.6,416.6M700.0,415.9L708.0,416.6M706.4,415.9L714.4,416.6M712.8,415.6L720.8,416.7M719.3,415.4L727.1,416.8M725.7,415.4L733.5,416.8M732.2,414.8L739.9,416.9M738.7,414.5L746.3,417.0M744.7,417.1L752.7,416.4M751.7,419.2L759.0,415.9M759.0,420.7L765.1,415.5M765.8,421.1L771.4,415.4M772.4,421.3L777.8,415.4M779.0,421.5L784.1,415.4M785.4,421.5L790.5,415.4M791.9,421.6L796.9,415.3M801.2,422.9L802.6,415.0M808.2,423.0L808.9,415.0M814.9,423.0L815.2,415.0M821.3,423.0L821.6,415.0M827.3,423.0L828.0,415.0M833.7,423.0L834.4,415.0M840.4,423.0L840.7,415.0" stroke="#1a1a9a" stroke-width="1.6" fill="none"/>
<path d="M353.9,412.6L351.5,417.7L348.4,413.5ZM361.0,413.8L357.6,418.2L355.4,413.5ZM367.8,414.8L363.6,418.6L362.3,413.6ZM374.3,415.4L369.8,418.8L368.9,413.7ZM380.7,415.4L376.2,418.8L375.3,413.7ZM386.9,414.8L382.8,418.6L381.4,413.6ZM392.0,412.3L389.9,417.5L386.5,413.5ZM398.3,412.2L396.3,417.4L392.8,413.6ZM404.3,411.7L402.8,417.2L399.0,413.6ZM410.6,411.7L409.2,417.1L405.3,413.6ZM417.0,411.7L415.5,417.2L411.7,413.6ZM423.0,411.4L422.0,416.9L417.9,413.7ZM427.6,410.4L428.3,416.0L423.5,414.2ZM435.2,411.0L434.8,416.6L430.4,413.9ZM440.4,410.4L441.1,416.0L436.2,414.2ZM446.6,410.3L447.5,415.9L442.5,414.3ZM453.0,410.3L453.9,415.9L448.9,414.3ZM459.3,410.3L460.3,415.9L455.3,414.3ZM465.4,410.2L466.6,415.7L461.6,414.4ZM471.5,410.1L473.0,415.6L467.9,414.5ZM477.6,410.1L479.3,415.5L474.2,414.6ZM483.8,410.1L485.7,415.4L480.5,414.7ZM490.0,410.0L492.0,415.3L486.8,414.7ZM496.8,410.1L498.5,415.5L493.4,414.6ZM503.0,410.1L504.8,415.4L499.7,414.7ZM509.0,410.0L511.2,415.2L506.0,414.8ZM515.1,410.0L517.5,415.1L512.3,414.9ZM522.4,410.1L524.0,415.5L518.9,414.6ZM528.7,410.1L530.4,415.5L525.3,414.6ZM534.0,410.0L536.6,415.0L531.4,415.0ZM540.4,410.0L543.0,415.0L537.8,415.0ZM546.8,410.0L549.4,415.0L544.2,415.0ZM552.9,410.0L555.7,414.9L550.5,415.1ZM558.4,410.1L561.9,414.6L556.7,415.5ZM564.3,410.2L568.1,414.4L563.0,415.7ZM571.8,410.0L574.8,414.8L569.6,415.2ZM578.2,410.0L581.2,414.8L576.0,415.2ZM583.4,410.2L587.2,414.4L582.2,415.7ZM589.3,410.4L593.4,414.2L588.5,416.0ZM595.1,410.6L599.6,414.0L594.9,416.2ZM601.2,410.8L605.9,414.0L601.3,416.4ZM607.6,410.8L612.3,414.0L607.7,416.4ZM614.0,410.8L618.6,414.0L614.1,416.4ZM620.2,410.9L624.9,413.9L620.4,416.5ZM626.6,410.9L631.3,413.9L626.8,416.5ZM633.0,410.9L637.7,413.9L633.2,416.5ZM639.6,410.8L644.2,414.0L639.6,416.4ZM646.3,410.6L650.7,414.0L646.0,416.2ZM654.8,410.0L657.8,414.8L652.7,415.2ZM661.8,410.0L664.4,415.0L659.2,415.0ZM668.7,410.0L670.9,415.2L665.7,414.8ZM678.7,411.5L677.5,417.0L673.5,413.7ZM687.1,414.3L683.2,418.4L681.5,413.5ZM693.8,416.5L688.8,419.1L688.8,413.9ZM700.2,416.8L695.1,419.2L695.4,414.0ZM706.6,417.1L701.4,419.2L701.8,414.0ZM713.0,417.1L707.8,419.2L708.2,414.0ZM719.4,417.1L714.2,419.2L714.6,414.0ZM725.7,417.4L720.4,419.3L721.1,414.1ZM732.1,417.6L726.7,419.3L727.6,414.2ZM738.5,417.6L733.1,419.3L734.0,414.2ZM744.7,418.2L739.2,419.4L740.6,414.4ZM751.0,418.5L745.5,419.4L747.1,414.5ZM757.7,415.9L752.9,419.0L752.5,413.8ZM763.5,413.8L760.1,418.2L757.9,413.5ZM769.0,412.3L766.8,417.5L763.5,413.5ZM775.0,411.9L773.3,417.3L769.6,413.6ZM781.1,411.7L779.7,417.1L775.8,413.6ZM787.3,411.5L786.1,417.0L782.1,413.7ZM793.7,411.5L792.5,417.0L788.5,413.7ZM799.9,411.4L798.9,416.9L794.8,413.7ZM803.5,410.1L805.2,415.5L800.0,414.6ZM809.3,410.0L811.4,415.2L806.3,414.8ZM815.3,410.0L817.8,415.1L812.6,414.9ZM821.7,410.0L824.2,415.1L819.0,414.9ZM828.5,410.0L830.6,415.2L825.4,414.8ZM834.8,410.0L837.0,415.2L831.8,414.8ZM840.9,410.0L843.3,415.1L838.1,414.9Z" fill="#1a1a9a"/>
<text x="344.5" y="62.5" font-size="11" fill="#000" stroke="#000" stroke-width="0.15" text-anchor="end">4</text>
<text x="853.5" y="62.5" font-size="11" fill="#000" stroke="#000" stroke-width="0.15" text-anchor="end">4</text>
<text x="344.5" y="78.5" font-size="11" fill="#000" stroke="#000" stroke-width="0.15" text-anchor="end">2</text>
<text x="853.5" y="78.5" font-size="11" fill="#000" stroke="#000" stroke-width="0.15" text-anchor="end">2</text>
<text x="344.5" y="92.5" font-size="11" fill="#000" stroke="#000" stroke-width="0.15" text-anchor="end">0</text>
<text x="853.5" y="92.5" font-size="11" fill="#000" stroke="#000" stroke-width="0.15" text-anchor="end">0</text>
<text x="344.5" y="108.5" font-size="11" fill="#000" stroke="#000" stroke-width="0.15" text-anchor="end">-2</text>
<text x="853.5" y="108.5" font-size="11" fill="#000" stroke="#000" stroke-width="0.15" text-anchor="end">-2</text>
<text x="344.5" y="123.5" font-size="11" fill="#000" stroke="#000" stroke-width="0.15" text-anchor="end">-4</text>
<text x="853.5" y="123.5" font-size="11" fill="#000" stroke="#000" stroke-width="0.15" text-anchor="end">-4</text>
<text x="344.5" y="150.5" font-size="11" fill="#000" stroke="#000" stroke-width="0.15" text-anchor="end">5</text>
<text x="853" y="150.5" font-size="11" fill="#e8601c" stroke="#e8601c" stroke-width="0.15" text-anchor="middle">100</text>
<text x="344.5" y="165.5" font-size="11" fill="#000" stroke="#000" stroke-width="0.15" text-anchor="end">4</text>
<text x="853" y="165.5" font-size="11" fill="#e8601c" stroke="#e8601c" stroke-width="0.15" text-anchor="middle">95</text>
<text x="344.5" y="180.5" font-size="11" fill="#000" stroke="#000" stroke-width="0.15" text-anchor="end">3</text>
<text x="853" y="180.5" font-size="11" fill="#e8601c" stroke="#e8601c" stroke-width="0.15" text-anchor="middle">90</text>
<text x="344.5" y="195.5" font-size="11" fill="#000" stroke="#000" stroke-width="0.15" text-anchor="end">2</text>
<text x="853" y="195.5" font-size="11" fill="#e8601c" stroke="#e8601c" stroke-width="0.15" text-anchor="middle">85</text>
<text x="344.5" y="210.5" font-size="11" fill="#000" stroke="#000" stroke-width="0.15" text-anchor="end">1</text>
<text x="853" y="210.5" font-size="11" fill="#e8601c" stroke="#e8601c" stroke-width="0.15" text-anchor="middle">80</text>
<text x="344.5" y="225.5" font-size="11" fill="#000" stroke="#000" stroke-width="0.15" text-anchor="end">0</text>
<text x="853" y="225.5" font-size="11" fill="#e8601c" stroke="#e8601c" stroke-width="0.15" text-anchor="middle">75</text>
<text x="344.5" y="242.5" font-size="11" fill="#000" stroke="#000" stroke-width="0.15" text-anchor="end">1025</text>
<text x="853" y="242.5" font-size="11" fill="#000" stroke="#000" stroke-width="0.15" text-anchor="middle">769</text>
<text x="344.5" y="263.5" font-size="11" fill="#000" stroke="#000" stroke-width="0.15" text-anchor="end">1020</text>
<text x="853" y="263.5" font-size="11" fill="#000" stroke="#000" stroke-width="0.15" text-anchor="middle">765</text>
<text x="344.5" y="283.5" font-size="11" fill="#000" stroke="#000" stroke-width="0.15" text-anchor="end">1015</text>
<text x="853" y="283.5" font-size="11" fill="#000" stroke="#000" stroke-width="0.15" text-anchor="middle">761</text>
<text x="344.5" y="304.5" font-size="11" fill="#000" stroke="#000" stroke-width="0.15" text-anchor="end">1010</text>
<text x="853" y="304.5" font-size="11" fill="#000" stroke="#000" stroke-width="0.15" text-anchor="middle">758</text>
<text x="344.5" y="322.5" font-size="11" fill="#000" stroke="#000" stroke-width="0.15" text-anchor="end">10</text>
<text x="851" y="322.5" font-size="11" fill="#000" stroke="#000" stroke-width="0.15" text-anchor="middle">36</text>
<text x="344.5" y="338.5" font-size="11" fill="#000" stroke="#000" stroke-width="0.15" text-anchor="end">8</text>
<text x="851" y="338.5" font-size="11" fill="#000" stroke="#000" stroke-width="0.15" text-anchor="middle">29</text>
<text x="344.5" y="353.5" font-size="11" fill="#000" stroke="#000" stroke-width="0.15" text-anchor="end">6</text>
<text x="851" y="353.5" font-size="11" fill="#000" stroke="#000" stroke-width="0.15" text-anchor="middle">22</text>
<text x="344.5" y="368.5" font-size="11" fill="#000" stroke="#000" stroke-width="0.15" text-anchor="end">4</text>
<text x="851" y="368.5" font-size="11" fill="#000" stroke="#000" stroke-width="0.15" text-anchor="middle">14</text>
<text x="344.5" y="384.5" font-size="11" fill="#000" stroke="#000" stroke-width="0.15" text-anchor="end">2</text>
<text x="851" y="384.5" font-size="11" fill="#000" stroke="#000" stroke-width="0.15" text-anchor="middle">7</text>
<text x="344.5" y="398.5" font-size="11" fill="#000" stroke="#000" stroke-width="0.15" text-anchor="end">0</text>
<text x="851" y="398.5" font-size="11" fill="#000" stroke="#000" stroke-width="0.15" text-anchor="middle">0</text>
<text x="344.5" y="442.5" font-size="11" fill="#000" stroke="#000" stroke-width="0.15" text-anchor="end">15.0</text>
<text x="845" y="442.5" font-size="11" fill="#ff8c00" stroke="#ff8c00" stroke-width="0.15">100</text>
<text x="344.5" y="460.5" font-size="11" fill="#000" stroke="#000" stroke-width="0.15" text-anchor="end">7.0</text>
<text x="845" y="460.5" font-size="11" fill="#ff8c00" stroke="#ff8c00" stroke-width="0.15">20</text>
<text x="344.5" y="481.5" font-size="11" fill="#000" stroke="#000" stroke-width="0.15" text-anchor="end">2.0</text>
<text x="845" y="481.5" font-size="11" fill="#ff8c00" stroke="#ff8c00" stroke-width="0.15">5</text>
<text x="344.5" y="500.5" font-size="11" fill="#000" stroke="#000" stroke-width="0.15" text-anchor="end">0.5</text>
<text x="845" y="500.5" font-size="11" fill="#ff8c00" stroke="#ff8c00" stroke-width="0.15">1</text>
<text x="344.5" y="519.5" font-size="11" fill="#000" stroke="#000" stroke-width="0.15" text-anchor="end">0.0</text>
<text x="845" y="519.5" font-size="11" fill="#ff8c00" stroke="#ff8c00" stroke-width="0.15">0</text>
<text x="344.5" y="530.5" font-size="11" fill="#000" stroke="#000" stroke-width="0.15" text-anchor="end">8</text>
<text x="845" y="530.5" font-size="11" fill="#ff8c00" stroke="#ff8c00" stroke-width="0.15">1</text>
<text x="344.5" y="549.5" font-size="11" fill="#000" stroke="#000" stroke-width="0.15" text-anchor="end">6</text>
<text x="845" y="549.5" font-size="11" fill="#ff8c00" stroke="#ff8c00" stroke-width="0.15">0.75</text>
<text x="344.5" y="568.5" font-size="11" fill="#000" stroke="#000" stroke-width="0.15" text-anchor="end">4</text>
<text x="845" y="568.5" font-size="11" fill="#ff8c00" stroke="#ff8c00" stroke-width="0.15">0.5</text>
<text x="344.5" y="588.5" font-size="11" fill="#000" stroke="#000" stroke-width="0.15" text-anchor="end">2</text>
<text x="845" y="588.5" font-size="11" fill="#ff8c00" stroke="#ff8c00" stroke-width="0.15">0.25</text>
<text x="344.5" y="606.5" font-size="11" fill="#000" stroke="#000" stroke-width="0.15" text-anchor="end">0</text>
<text x="845" y="606.5" font-size="11" fill="#ff8c00" stroke="#ff8c00" stroke-width="0.15">0</text>
<text x="293.5" y="96.2" font-size="12" fill="#14149a" stroke="#14149a" stroke-width="0.15" text-anchor="middle" transform="rotate(-90 293.5 96.2)">temperatura</text>
<text x="306.5" y="96.4" font-size="12" fill="#14149a" stroke="#14149a" stroke-width="0.15" text-anchor="middle" transform="rotate(-90 306.5 96.4)">(°C)</text>
<text x="293.5" y="184.8" font-size="12" fill="#14149a" stroke="#14149a" stroke-width="0.15" text-anchor="middle" transform="rotate(-90 293.5 184.8)">opad</text>
<text x="306.5" y="185.7" font-size="12" fill="#14149a" stroke="#14149a" stroke-width="0.15" text-anchor="middle" transform="rotate(-90 306.5 185.7)">(mm/h, kg/m²/h)</text>
<text x="294" y="273" font-size="12" fill="#14149a" stroke="#14149a" stroke-width="0.15" text-anchor="middle" transform="rotate(-90 294 273)">ciśnienie</text>
<text x="305.5" y="273" font-size="12" fill="#14149a" stroke="#14149a" stroke-width="0.15" text-anchor="middle" transform="rotate(-90 305.5 273)">(hPa)</text>
<text x="293.8" y="360.6" font-size="12" fill="#14149a" stroke="#14149a" stroke-width="0.15" text-anchor="middle" transform="rotate(-90 293.8 360.6)">wiatr</text>
<text x="307" y="361" font-size="12" fill="#14149a" stroke="#14149a" stroke-width="0.15" text-anchor="middle" transform="rotate(-90 307 361)">(m/s)</text>
<text x="294.2" y="474.5" font-size="12" fill="#14149a" stroke="#14149a" stroke-width="0.15" text-anchor="middle" textLength="101" lengthAdjust="spacingAndGlyphs" transform="rotate(-90 294.2 474.5)">pion. rozciągł. chm.</text>
<text x="307.9" y="473.8" font-size="12" fill="#14149a" stroke="#14149a" stroke-width="0.15" text-anchor="middle" transform="rotate(-90 307.9 473.8)">(km)</text>
<text x="294.2" y="571.5" font-size="12" fill="#14149a" stroke="#14149a" stroke-width="0.15" text-anchor="middle" transform="rotate(-90 294.2 571.5)">zachmurzenie</text>
<text x="308" y="562.4" font-size="12" fill="#14149a" stroke="#14149a" stroke-width="0.15" text-anchor="middle" transform="rotate(-90 308 562.4)">(oktanty)</text>
<text x="893.5" y="96.4" font-size="12" fill="#14149a" stroke="#14149a" stroke-width="0.15" text-anchor="middle" transform="rotate(-90 893.5 96.4)">(°C)</text>
<text x="906" y="96.2" font-size="12" fill="#14149a" stroke="#14149a" stroke-width="0.15" text-anchor="middle" transform="rotate(-90 906 96.2)">temperatura</text>
<text x="893.5" y="185.2" font-size="12" fill="#14149a" stroke="#14149a" stroke-width="0.15" text-anchor="middle" transform="rotate(-90 893.5 185.2)">(%)</text>
<text x="905.5" y="184.5" font-size="12" fill="#14149a" stroke="#14149a" stroke-width="0.15" text-anchor="middle" textLength="90" lengthAdjust="spacingAndGlyphs" transform="rotate(-90 905.5 184.5)">wilgotność wzgl.</text>
<text x="893.5" y="272.4" font-size="12" fill="#14149a" stroke="#14149a" stroke-width="0.15" text-anchor="middle" transform="rotate(-90 893.5 272.4)">(mm Hg)</text>
<text x="906" y="272.4" font-size="12" fill="#14149a" stroke="#14149a" stroke-width="0.15" text-anchor="middle" transform="rotate(-90 906 272.4)">ciśnienie</text>
<text x="893.5" y="361" font-size="12" fill="#14149a" stroke="#14149a" stroke-width="0.15" text-anchor="middle" transform="rotate(-90 893.5 361)">(km/h)</text>
<text x="906" y="360.6" font-size="12" fill="#14149a" stroke="#14149a" stroke-width="0.15" text-anchor="middle" transform="rotate(-90 906 360.6)">wiatr</text>
<text x="893.5" y="473.8" font-size="12" fill="#14149a" stroke="#14149a" stroke-width="0.15" text-anchor="middle" transform="rotate(-90 893.5 473.8)">(km)</text>
<text x="906" y="474.5" font-size="12" fill="#14149a" stroke="#14149a" stroke-width="0.15" text-anchor="middle" transform="rotate(-90 906 474.5)">widzialność</text>
<text x="893.5" y="562.4" font-size="12" fill="#14149a" stroke="#14149a" stroke-width="0.15" text-anchor="middle" transform="rotate(-90 893.5 562.4)">(frakcja)</text>
<text x="906" y="571.5" font-size="12" fill="#14149a" stroke="#14149a" stroke-width="0.15" text-anchor="middle" transform="rotate(-90 906 571.5)">mgła</text>
<text x="284.4" y="420" font-size="12" fill="#14149a" stroke="#14149a" stroke-width="0.15">W</text>
<text x="294.9" y="411.5" font-size="11" fill="#14149a" stroke="#14149a" stroke-width="0.15">N</text>
<text x="301.4" y="420" font-size="11" fill="#14149a" stroke="#14149a" stroke-width="0.15">E</text>
<text x="294.9" y="427.5" font-size="11" fill="#14149a" stroke="#14149a" stroke-width="0.15">S</text>
<text x="883" y="420" font-size="12" fill="#14149a" stroke="#14149a" stroke-width="0.15">W</text>
<text x="893.5" y="411.5" font-size="11" fill="#14149a" stroke="#14149a" stroke-width="0.15">N</text>
<text x="900" y="420" font-size="11" fill="#14149a" stroke="#14149a" stroke-width="0.15">E</text>
<text x="893.5" y="427.5" font-size="11" fill="#14149a" stroke="#14149a" stroke-width="0.15">S</text>
<text x="290" y="12.7" font-size="12" fill="#14149a" stroke="#14149a" stroke-width="0.15" textLength="146.7" lengthAdjust="spacingAndGlyphs">wschód słońca: 07:46 CET</text>
<text x="292" y="25.5" font-size="12" fill="#14149a" stroke="#14149a" stroke-width="0.15" textLength="142.4" lengthAdjust="spacingAndGlyphs">zachód słońca: 15:10 CET</text>
<text x="531.8" y="12.7" font-size="12" fill="#14149a" stroke="#14149a" stroke-width="0.15" textLength="127.7" lengthAdjust="spacingAndGlyphs">21°43'31"E, 53°59'46"N</text>
<text x="554.8" y="25" font-size="12" fill="#14149a" stroke="#14149a" stroke-width="0.15" textLength="81.8" lengthAdjust="spacingAndGlyphs">(x=261,  y=355)</text>
<text x="739.6" y="12.5" font-size="12" fill="#14149a" stroke="#14149a" stroke-width="0.15" textLength="157.8" lengthAdjust="spacingAndGlyphs">wysokość (min, środek, max)</text>
<text x="770.6" y="25.4" font-size="12" fill="#14149a" stroke="#14149a" stroke-width="0.15" textLength="95.8" lengthAdjust="spacingAndGlyphs">121 - 141 - 157 m</text>
<text x="361.5" y="54.2" font-size="12" fill="#000" stroke="#000" stroke-width="0.15" text-anchor="middle">16</text>
<text x="361.5" y="616.7" font-size="12" fill="#000" stroke="#000" stroke-width="0.15" text-anchor="middle">15</text>
<text x="399.8" y="54.2" font-size="12" fill="#000" stroke="#000" stroke-width="0.15" text-anchor="middle">22</text>
<text x="399.8" y="616.7" font-size="12" fill="#000" stroke="#000" stroke-width="0.15" text-anchor="middle">21</text>
<text x="438.2" y="54.2" font-size="12" fill="#000" stroke="#000" stroke-width="0.15" text-anchor="middle">04</text>
<text x="438.2" y="616.7" font-size="12" fill="#000" stroke="#000" stroke-width="0.15" text-anchor="middle">03</text>
<text x="476.5" y="54.2" font-size="12" fill="#000" stroke="#000" stroke-width="0.15" text-anchor="middle">10</text>
<text x="476.5" y="616.7" font-size="12" fill="#000" stroke="#000" stroke-width="0.15" text-anchor="middle">09</text>
<text x="514.8" y="54.2" font-size="12" fill="#000" stroke="#000" stroke-width="0.15" text-anchor="middle">16</text>
<text x="514.8" y="616.7" font-size="12" fill="#000" stroke="#000" stroke-width="0.15" text-anchor="middle">15</text>
<text x="553.2" y="54.2" font-size="12" fill="#000" stroke="#000" stroke-width="0.15" text-anchor="middle">22</text>
<text x="553.2" y="616.7" font-size="12" fill="#000" stroke="#000" stroke-width="0.15" text-anchor="middle">21</text>
<text x="591.5" y="54.2" font-size="12" fill="#000" stroke="#000" stroke-width="0.15" text-anchor="middle">04</text>
<text x="591.5" y="616.7" font-size="12" fill="#000" stroke="#000" stroke-width="0.15" text-anchor="middle">03</text>
<text x="629.8" y="54.2" font-size="12" fill="#000" stroke="#000" stroke-width="0.15" text-anchor="middle">10</text>
<text x="629.8" y="616.7" font-size="12" fill="#000" stroke="#000" stroke-width="0.15" text-anchor="middle">09</text>
<text x="668.2" y="54.2" font-size="12" fill="#000" stroke="#000" stroke-width="0.15" text-anchor="middle">16</text>
<text x="668.2" y="616.7" font-size="12" fill="#000" stroke="#000" stroke-width="0.15" text-anchor="middle">15</text>
<text x="706.5" y="54.2" font-size="12" fill="#000" stroke="#000" stroke-width="0.15" text-anchor="middle">22</text>
<text x="706.5" y="616.7" font-size="12" fill="#000" stroke="#000" stroke-width="0.15" text-anchor="middle">21</text>
<text x="744.8" y="54.2" font-size="12" fill="#000" stroke="#000" stroke-width="0.15" text-anchor="middle">04</text>
<text x="744.8" y="616.7" font-size="12" fill="#000" stroke="#000" stroke-width="0.15" text-anchor="middle">03</text>
<text x="783.2" y="54.2" font-size="12" fill="#000" stroke="#000" stroke-width="0.15" text-anchor="middle">10</text>
<text x="783.2" y="616.7" font-size="12" fill="#000" stroke="#000" stroke-width="0.15" text-anchor="middle">09</text>
<text x="821.5" y="54.2" font-size="12" fill="#000" stroke="#000" stroke-width="0.15" text-anchor="middle">16</text>
<text x="821.5" y="616.7" font-size="12" fill="#000" stroke="#000" stroke-width="0.15" text-anchor="middle">15</text>
<text x="306.4" y="54.2" font-size="12" fill="#000" stroke="#000" stroke-width="0.15" textLength="25.4" lengthAdjust="spacingAndGlyphs">CET</text>
<text x="860" y="54.2" font-size="12" fill="#000" stroke="#000" stroke-width="0.15" textLength="24.4" lengthAdjust="spacingAndGlyphs">CET</text>
<text x="306.4" y="616.7" font-size="12" fill="#000" stroke="#000" stroke-width="0.15" textLength="24.6" lengthAdjust="spacingAndGlyphs">UTC</text>
<text x="860" y="616.7" font-size="12" fill="#000" stroke="#000" stroke-width="0.15" textLength="24.6" lengthAdjust="spacingAndGlyphs">UTC</text>
<text x="465.9" y="42.2" font-size="12" fill="#000" stroke="#000" stroke-width="0.15" textLength="59.9" lengthAdjust="spacingAndGlyphs">wto, 16.12</text>
<text x="620.7" y="42.2" font-size="12" fill="#000" stroke="#000" stroke-width="0.15" textLength="59.9" lengthAdjust="spacingAndGlyphs">śro, 17.12</text>
<text x="771.3" y="42.2" font-size="12" fill="#000" stroke="#000" stroke-width="0.15" textLength="63.4" lengthAdjust="spacingAndGlyphs">czw, 18.12</text>
<text x="496" y="630" font-size="12" fill="#000" stroke="#000" stroke-width="0.15" text-anchor="middle">16.12</text>
<text x="649" y="630" font-size="12" fill="#000" stroke="#000" stroke-width="0.15" text-anchor="middle">17.12</text>
<text x="802" y="630" font-size="12" fill="#000" stroke="#000" stroke-width="0.15" text-anchor="middle">18.12</text>
<text x="309.8" y="652.9" font-size="12" fill="#14149a" stroke="#14149a" stroke-width="0.15" textLength="107.4" lengthAdjust="spacingAndGlyphs">meteo@icm.edu.pl</text>
<text x="623.8" y="653" font-size="12" fill="#14149a" stroke="#14149a" stroke-width="0.15" textLength="251.4" lengthAdjust="spacingAndGlyphs">© 2007-2025 ICM, Uniwersytet Warszawski</text>
<clipPath id="lcT"><rect x="135.5" y="57.5" width="110.0" height="77.0"/></clipPath>
<rect x="135.5" y="57.5" width="110.0" height="77.0" fill="#ffffff"/>
<rect x="170" y="57.5" width="61.69999999999999" height="77.0" fill="#eaf2fd"/>
<g clip-path="url(#lcT)">
<rect x="135.5" y="111.3" width="110.0" height="23.200000000000003" fill="#87cefa"/>
<rect x="170" y="111.3" width="61.7" height="23.200000000000003" fill="#7fc2ef"/>
<path d="M170.0,114.7 L190.0,121.3 L204.7,129.3 L231.3,132.0 L245.3,126.7 L245.3,134.7 L170.0,134.7Z" fill="#74b2e0"/>
<path d="M135.3,88.0 L146.0,92.0 L163.3,98.7 L183.3,104.7 L210.0,109.3 L226.0,111.3 L245.3,106.0 L245.3,111.3 L239.3,114.0 L232.7,118.7 L226.0,116.0 L218.0,115.3 L210.0,114.7 L204.7,114.0 L199.3,113.6 L191.3,113.6 L183.3,113.3 L175.3,112.7 L170.0,110.7 L164.7,108.0 L156.7,104.7 L147.3,100.7 L142.0,98.9 L135.3,98.7Z" fill="#ffe6dc"/>
<path d="M135.3,102.7 L142.0,102.9 L150.0,105.3 L160.7,109.3 L170.0,111.3 L175.3,113.3 L183.3,113.6 L191.3,116.7 L199.3,117.3 L207.3,118.0 L212.7,118.7 L218.0,116.7 L223.3,117.3 L228.7,120.0 L232.7,122.0 L238.0,117.3 L245.3,116.0 L245.3,121.3 L231.3,124.7 L210.0,124.0 L190.0,120.0 L170.0,114.7 L150.0,109.3 L135.3,108.0Z" fill="#b8e2fa"/>
<path d="M142.3,72.0V86.7M149.3,78.0V92.0M156.4,87.3V98.7M163.3,96.0V106.7M170.4,100.7V114.7M177.3,103.3V118.7M184.4,106.7V120.7M191.3,107.3V123.3M198.4,108.0V125.3M205.3,109.3V126.0M212.4,109.3V129.3M219.3,110.7V130.0M226.3,111.3V133.3M233.3,111.3V132.0M240.4,106.0V120.7" stroke="#a01818" stroke-width="1.2"/>
<path d="M135.5,59.5H245.5M135.5,77.5H245.5M135.5,94.5H245.5M135.5,111.5H245.5M135.5,129.5H245.5M142.5,57.5V134.5M163.5,57.5V134.5M184.5,57.5V134.5M205.5,57.5V134.5M226.5,57.5V134.5" stroke="#fff" stroke-opacity="0.3" stroke-width="1" fill="none" shape-rendering="crispEdges"/>
<path d="M135.5,59.5H245.5M135.5,77.5H245.5M135.5,94.5H245.5M135.5,111.5H245.5M135.5,129.5H245.5M142.5,57.5V134.5M163.5,57.5V134.5M184.5,57.5V134.5M205.5,57.5V134.5M226.5,57.5V134.5" stroke="#000" stroke-width="1" stroke-dasharray="2,2" fill="none" shape-rendering="crispEdges"/>
<path d="M135.3,98.7 L142.0,98.9 L147.3,100.7 L156.7,104.7 L164.7,108.0 L170.0,110.7 L175.3,112.7 L183.3,113.3 L191.3,113.6 L199.3,113.6 L204.7,114.0 L210.0,114.7 L218.0,115.3 L226.0,116.0 L232.7,118.7 L239.3,114.0 L245.3,111.3" stroke="#ff0000" stroke-width="2.6" fill="none"/>
<path d="M135.3,102.7 L142.0,102.9 L150.0,105.3 L160.7,109.3 L170.0,111.3 L175.3,113.3 L183.3,113.6 L191.3,116.7 L199.3,117.3 L207.3,118.0 L212.7,118.7 L218.0,116.7 L223.3,117.3 L228.7,120.0 L232.7,122.0 L238.0,117.3 L245.3,116.0" stroke="#0000ff" stroke-width="2.6" fill="none"/>
<rect x="135.2" y="112.1" width="3" height="3" fill="#6a50d8"/>
<rect x="141.2" y="112.1" width="3" height="3" fill="#6a50d8"/>
<rect x="147.8" y="112.1" width="3" height="3" fill="#6a50d8"/>
<rect x="154.9" y="112.1" width="3" height="3" fill="#6a50d8"/>
<rect x="161.8" y="112.1" width="3" height="3" fill="#6a50d8"/>
</g>
<rect x="135.5" y="57.5" width="110.0" height="77.0" fill="none" stroke="#000" stroke-width="1.3"/>
<clipPath id="lcP"><rect x="135.5" y="143.3" width="110.0" height="77.0"/></clipPath>
<rect x="135.5" y="143.3" width="110.0" height="77.0" fill="#ffffff"/>
<rect x="170" y="143.3" width="61.69999999999999" height="77.0" fill="#eaf2fd"/>
<g clip-path="url(#lcP)">
<path d="M135.5,220.5 L136.0,187.06666666666666 L143.33333333333334,187.06666666666666 L143.33333333333334,180.93333333333334 L149.33333333333334,180.93333333333334 L149.33333333333334,179.06666666666666 L157.33333333333334,179.06666666666666 L157.33333333333334,202.0 L164.0,202.0 L164.0,208.0 L170.0,208.0 L170.0,218.0 L176.66666666666666,218.0 L176.66666666666666,220.5Z" fill="#0a9a0a"/>
<rect x="157.3" y="182.0" width="6.7" height="20.0" fill="#1030d0"/>
<rect x="164.0" y="205.1" width="6.0" height="2.9" fill="#1030d0"/>
<path d="M135.5,150.5H245.5M135.5,168.5H245.5M135.5,185.5H245.5M135.5,203.5H245.5M142.5,143.3V220.3M163.5,143.3V220.3M184.5,143.3V220.3M205.5,143.3V220.3M226.5,143.3V220.3" stroke="#fff" stroke-opacity="0.3" stroke-width="1" fill="none" shape-rendering="crispEdges"/>
<path d="M135.5,150.5H245.5M135.5,168.5H245.5M135.5,185.5H245.5M135.5,203.5H245.5M142.5,143.3V220.3M163.5,143.3V220.3M184.5,143.3V220.3M205.5,143.3V220.3M226.5,143.3V220.3" stroke="#000" stroke-width="1" stroke-dasharray="2,2" fill="none" shape-rendering="crispEdges"/>
<path d="M139.3,165.3V187 M146.4,147.3V181 M153.6,147.3V179" stroke="#10b010" stroke-width="1"/>
<path d="M160.7,171.3V182" stroke="#1030d0" stroke-width="1"/>
<rect x="145" y="146" width="2.8" height="2.8" fill="#ff0000"/><rect x="152.2" y="146" width="2.8" height="2.8" fill="#ff0000"/>
<circle cx="139.3" cy="173.3" r="2.2" fill="#ffff00" stroke="#000" stroke-width="0.7"/>
<circle cx="146.4" cy="173.3" r="2.2" fill="#ffa000" stroke="#000" stroke-width="0.7"/>
<circle cx="153.6" cy="173.3" r="2.2" fill="#ff0000" stroke="#000" stroke-width="0.7"/>
<path d="M136.0,172.7 L140.7,170.0 L144.7,166.7 L147.3,162.0 L150.7,158.0 L155.3,156.0 L160.7,154.3 L164.7,152.9 L170.0,152.7 L183.3,152.7 L186.0,151.3 L190.0,148.9 L194.0,148.4 L198.0,148.4 L203.3,153.7 L207.3,155.6 L212.7,155.6 L218.0,152.4 L223.3,150.0 L227.3,149.7 L231.3,150.7 L236.7,153.7 L240.7,158.7 L245.3,164.7" stroke="#e85010" stroke-width="2" fill="none"/>
<path d="M138,219.3H141 M146,219.3H149 M153,219.3H156 M160.5,219.3H163.5" stroke="#ff0000" stroke-width="1.2"/>
</g>
<rect x="135.5" y="143.3" width="110.0" height="77.0" fill="none" stroke="#000" stroke-width="1.3"/>
<clipPath id="lcR"><rect x="135.5" y="229.5" width="110.0" height="77.0"/></clipPath>
<rect x="135.5" y="229.5" width="110.0" height="77.0" fill="#ffffff"/>
<rect x="170" y="229.5" width="61.69999999999999" height="77.0" fill="#eaf2fd"/>
<g clip-path="url(#lcR)"><path d="M135.3,260.0 L143.3,260.0 L150.0,253.3 L156.7,249.3 L164.0,248.9 L170.7,244.7 L176.7,248.0 L183.3,250.0 L191.3,253.6 L199.3,253.6 L224.7,253.6 L231.3,256.7 L238.0,260.4 L245.3,264.9 L245.5,307 L135.5,307Z" fill="#ffff00"/>
<path d="M164.9,229.5 H169.6 V306.5 H164.9Z" fill="#ffd400" clip-path="url(#lcRp)"/>
</g>
<clipPath id="lcRp"><path d="M135.3,260.0 L143.3,260.0 L150.0,253.3 L156.7,249.3 L164.0,248.9 L170.7,244.7 L176.7,248.0 L183.3,250.0 L191.3,253.6 L199.3,253.6 L224.7,253.6 L231.3,256.7 L238.0,260.4 L245.3,264.9 L245.5,307 L135.5,307Z"/></clipPath>
<path d="M135.5,231.5H245.5M135.5,254.5H245.5M135.5,278.5H245.5M135.5,301.5H245.5M142.5,229.5V306.5M163.5,229.5V306.5M184.5,229.5V306.5M205.5,229.5V306.5M226.5,229.5V306.5" stroke="#fff" stroke-opacity="0.3" stroke-width="1" fill="none" shape-rendering="crispEdges"/>
<path d="M135.5,231.5H245.5M135.5,254.5H245.5M135.5,278.5H245.5M135.5,301.5H245.5M142.5,229.5V306.5M163.5,229.5V306.5M184.5,229.5V306.5M205.5,229.5V306.5M226.5,229.5V306.5" stroke="#000" stroke-width="1" stroke-dasharray="2,2" fill="none" shape-rendering="crispEdges"/>
<path d="M135.3,260.0 L143.3,260.0 L150.0,253.3 L156.7,249.3 L164.0,248.9 L170.7,244.7 L176.7,248.0 L183.3,250.0 L191.3,253.6 L199.3,253.6 L224.7,253.6 L231.3,256.7 L238.0,260.4 L245.3,264.9" stroke="#000" stroke-width="2.2" fill="none"/>
<rect x="135.5" y="229.5" width="110.0" height="77.0" fill="none" stroke="#000" stroke-width="1.3"/>
<clipPath id="lcW"><rect x="135.5" y="315.5" width="110.0" height="77.0"/></clipPath>
<rect x="135.5" y="315.5" width="110.0" height="77.0" fill="#ffffff"/>
<rect x="170" y="315.5" width="61.69999999999999" height="77.0" fill="#eaf2fd"/>
<clipPath id="lcWf"><path d="M135.3,364.7 L138.0,366.7 L143.3,368.7 L150.0,370.7 L156.7,372.3 L166.0,374.0 L176.7,375.7 L184.7,375.7 L191.3,374.0 L198.0,372.7 L210.0,372.7 L224.7,372.7 L232.7,370.4 L239.3,369.3 L245.3,369.3 L245.5,393 L135.5,393Z"/></clipPath>
<g clip-path="url(#lcWf)">
<rect x="135.3" y="315.5" width="13.0" height="77.0" fill="#11cc11"/>
<rect x="148" y="315.5" width="21.3" height="77.0" fill="#007a00"/>
<rect x="169" y="315.5" width="28.0" height="77.0" fill="#0a4a8a"/>
<rect x="196.7" y="315.5" width="14.6" height="77.0" fill="#007a00"/>
<rect x="211" y="315.5" width="14.6" height="77.0" fill="#0a4a8a"/>
<rect x="225.3" y="315.5" width="14.0" height="77.0" fill="#007a00"/>
<rect x="239" y="315.5" width="6.8" height="77.0" fill="#11cc11"/>
</g>
<path d="M135.5,334.5H245.5M135.5,354.5H245.5M135.5,373.5H245.5M142.5,315.5V392.5M163.5,315.5V392.5M184.5,315.5V392.5M205.5,315.5V392.5M226.5,315.5V392.5" stroke="#fff" stroke-opacity="0.3" stroke-width="1" fill="none" shape-rendering="crispEdges"/>
<path d="M135.5,334.5H245.5M135.5,354.5H245.5M135.5,373.5H245.5M142.5,315.5V392.5M163.5,315.5V392.5M184.5,315.5V392.5M205.5,315.5V392.5M226.5,315.5V392.5" stroke="#000" stroke-width="1" stroke-dasharray="2,2" fill="none" shape-rendering="crispEdges"/>
<path d="M135.3,364.7 L138.0,366.7 L143.3,368.7 L150.0,370.7 L156.7,372.3 L166.0,374.0 L176.7,375.7 L184.7,375.7 L191.3,374.0 L198.0,372.7 L210.0,372.7 L224.7,372.7 L232.7,370.4 L239.3,369.3 L245.3,369.3" stroke="#0a1a8a" stroke-width="2.2" fill="none"/>
<path d="M148.0,347.3H155.3M155.3,348.3H162.0M162.0,351.5H170.0M170.0,355.3H176.7M176.0,358.4H184.7M184.0,354.4H188.7M190.0,351.5H197.3M197.3,350.4H211.3M211.3,351.5H225.3M225.3,347.3H232.7M232.0,343.5H239.3M239.3,342.4H245.3M142.7,340.4H148.7" stroke="#ff1010" stroke-width="1.2"/>
<circle cx="138.7" cy="317" r="1.6" fill="#ff0000"/>
<rect x="135.5" y="315.5" width="110.0" height="77.0" fill="none" stroke="#000" stroke-width="1.3"/>
<rect x="135.5" y="398.5" width="110.0" height="32.0" fill="#ffffff"/>
<rect x="170" y="398.5" width="61.69999999999999" height="32.0" fill="#eaf2fd"/>
<path d="M142.5,398.5V430.5M163.5,398.5V430.5M184.5,398.5V430.5M205.5,398.5V430.5M226.5,398.5V430.5" stroke="#fff" stroke-opacity="0.3" stroke-width="1" fill="none" shape-rendering="crispEdges"/>
<path d="M142.5,398.5V430.5M163.5,398.5V430.5M184.5,398.5V430.5M205.5,398.5V430.5M226.5,398.5V430.5" stroke="#000" stroke-width="1" stroke-dasharray="2,2" fill="none" shape-rendering="crispEdges"/>
<path d="M138.7,405.5 L143.9,420" stroke="#0a0a9a" stroke-width="1.4"/>
<path d="M145.2,424 L140.3,419.5 L146.3,417.3Z" fill="#0a0a9a"/>
<path d="M145.5,405.5 L150.7,420" stroke="#0a0a9a" stroke-width="1.4"/>
<path d="M152.0,424 L147.1,419.5 L153.1,417.3Z" fill="#0a0a9a"/>
<path d="M152.4,405.5 L157.6,420" stroke="#0a0a9a" stroke-width="1.4"/>
<path d="M158.9,424 L154.0,419.5 L160.0,417.3Z" fill="#0a0a9a"/>
<path d="M159.2,405.5 L164.4,420" stroke="#0a0a9a" stroke-width="1.4"/>
<path d="M165.8,424 L160.8,419.5 L166.8,417.3Z" fill="#0a0a9a"/>
<path d="M166.1,405.5 L171.3,420" stroke="#0a0a9a" stroke-width="1.4"/>
<path d="M172.6,424 L167.7,419.5 L173.7,417.3Z" fill="#0a0a9a"/>
<path d="M172.9,405.5 L178.1,420" stroke="#0a0a9a" stroke-width="1.4"/>
<path d="M179.4,424 L174.5,419.5 L180.5,417.3Z" fill="#0a0a9a"/>
<path d="M179.8,405.5 L185.0,420" stroke="#0a0a9a" stroke-width="1.4"/>
<path d="M186.3,424 L181.4,419.5 L187.4,417.3Z" fill="#0a0a9a"/>
<path d="M186.6,405.5 L191.8,420" stroke="#0a0a9a" stroke-width="1.4"/>
<path d="M193.1,424 L188.2,419.5 L194.2,417.3Z" fill="#0a0a9a"/>
<path d="M193.5,405.5 L198.7,420" stroke="#0a0a9a" stroke-width="1.4"/>
<path d="M200.0,424 L195.1,419.5 L201.1,417.3Z" fill="#0a0a9a"/>
<path d="M200.3,405.5 L205.5,420" stroke="#0a0a9a" stroke-width="1.4"/>
<path d="M206.8,424 L201.9,419.5 L207.9,417.3Z" fill="#0a0a9a"/>
<path d="M207.2,405.5 L212.4,420" stroke="#0a0a9a" stroke-width="1.4"/>
<path d="M213.7,424 L208.8,419.5 L214.8,417.3Z" fill="#0a0a9a"/>
<path d="M214.0,405.5 L219.2,420" stroke="#0a0a9a" stroke-width="1.4"/>
<path d="M220.5,424 L215.6,419.5 L221.6,417.3Z" fill="#0a0a9a"/>
<path d="M220.9,405.5 L226.1,420" stroke="#0a0a9a" stroke-width="1.4"/>
<path d="M227.4,424 L222.5,419.5 L228.5,417.3Z" fill="#0a0a9a"/>
<path d="M227.8,405.5 L232.9,420" stroke="#0a0a9a" stroke-width="1.4"/>
<path d="M234.2,424 L229.3,419.5 L235.3,417.3Z" fill="#0a0a9a"/>
<path d="M234.6,405.5 L239.8,420" stroke="#0a0a9a" stroke-width="1.4"/>
<path d="M241.1,424 L236.2,419.5 L242.2,417.3Z" fill="#0a0a9a"/>
<path d="M241.4,405.5 L246.6,420" stroke="#0a0a9a" stroke-width="1.4"/>
<path d="M247.9,424 L243.0,419.5 L249.0,417.3Z" fill="#0a0a9a"/>
<rect x="135.5" y="398.5" width="110.0" height="32.0" fill="none" stroke="#000" stroke-width="1.2"/>
<clipPath id="lcC"><rect x="135.5" y="436.7" width="110.0" height="77.09999999999997"/></clipPath>
<rect x="135.5" y="436.7" width="110.0" height="77.09999999999997" fill="#87cefa"/>
<rect x="170" y="436.7" width="61.69999999999999" height="77.09999999999997" fill="#7dbdec"/>
<g clip-path="url(#lcC)">
<circle cx="150.3" cy="500.7" r="2.8" fill="#ffffff"/>
<circle cx="163.9" cy="498.7" r="2.8" fill="#ffffff"/>
<circle cx="177.1" cy="492.3" r="2.8" fill="#ffffff"/>
<circle cx="191.0" cy="500.3" r="2.8" fill="#ffffff"/>
<circle cx="204.6" cy="491.9" r="2.8" fill="#ffffff"/>
<circle cx="211.4" cy="492.5" r="2.8" fill="#ffffff"/>
<circle cx="218.2" cy="508.8" r="2.8" fill="#ffffff"/>
<circle cx="225.0" cy="508.8" r="2.8" fill="#ffffff"/>
<circle cx="232.3" cy="508.8" r="2.8" fill="#ffffff"/>
<circle cx="238.9" cy="508.8" r="2.8" fill="#ffffff"/>
<circle cx="184.3" cy="508.8" r="2.8" fill="#ffffff"/>
<circle cx="143.2" cy="506.5" r="2.8" fill="#ffffff"/>
<circle cx="136.8" cy="506.5" r="2.8" fill="#ffffff"/>
<circle cx="170.3" cy="489.0" r="2.8" fill="#d0d0d0"/>
<circle cx="177.1" cy="489.0" r="2.8" fill="#d0d0d0"/>
<circle cx="191.0" cy="491.9" r="2.8" fill="#d0d0d0"/>
<circle cx="198.2" cy="491.9" r="2.8" fill="#d0d0d0"/>
<circle cx="218.2" cy="499.7" r="2.8" fill="#d0d0d0"/>
<circle cx="238.9" cy="493.9" r="2.8" fill="#d0d0d0"/>
<circle cx="245.3" cy="499.7" r="2.8" fill="#d0d0d0"/>
<circle cx="198.2" cy="468.7" r="2.8" fill="#999999"/>
<circle cx="198.2" cy="485.1" r="2.8" fill="#999999"/>
<circle cx="211.4" cy="486.1" r="2.8" fill="#999999"/>
<circle cx="225.0" cy="499.7" r="2.8" fill="#999999"/>
<circle cx="232.3" cy="499.7" r="2.8" fill="#999999"/>
<circle cx="238.9" cy="499.7" r="2.8" fill="#999999"/>
<circle cx="245.3" cy="482.2" r="2.8" fill="#999999"/>
<circle cx="143.2" cy="500.7" r="2.8" fill="#999999"/>
<circle cx="143.2" cy="481.3" r="2.8" fill="#555555"/>
<circle cx="150.3" cy="491.9" r="2.8" fill="#555555"/>
<circle cx="157.1" cy="491.9" r="2.8" fill="#555555"/>
<circle cx="163.9" cy="491.9" r="2.8" fill="#555555"/>
<circle cx="191.0" cy="489.0" r="2.8" fill="#555555"/>
<circle cx="211.4" cy="481.3" r="2.8" fill="#555555"/>
<circle cx="218.2" cy="489.0" r="2.8" fill="#555555"/>
<circle cx="225.0" cy="491.9" r="2.8" fill="#555555"/>
<circle cx="232.3" cy="493.9" r="2.8" fill="#555555"/>
<circle cx="184.3" cy="500.7" r="2.8" fill="#555555"/>
<circle cx="184.7" cy="504.5" r="2.8" fill="#555555"/>
<circle cx="191.0" cy="456.5" r="2.8" fill="#000000"/>
<circle cx="198.2" cy="464.2" r="2.8" fill="#000000"/>
<circle cx="204.6" cy="468.1" r="2.8" fill="#000000"/>
<circle cx="211.4" cy="470.0" r="2.8" fill="#000000"/>
<circle cx="218.2" cy="481.3" r="2.8" fill="#000000"/>
<circle cx="225.0" cy="485.5" r="2.8" fill="#000000"/>
<circle cx="232.3" cy="489.4" r="2.8" fill="#000000"/>
<circle cx="238.9" cy="481.3" r="2.8" fill="#000000"/>
<circle cx="245.3" cy="477.0" r="2.8" fill="#000000"/>
<circle cx="184.3" cy="489.0" r="2.8" fill="#000000"/>
<circle cx="150.3" cy="458.4" r="2.8" fill="#b02828"/>
<circle cx="157.1" cy="458.4" r="2.8" fill="#b02828"/>
<circle cx="163.9" cy="460.0" r="2.8" fill="#b02828"/>
<circle cx="170.3" cy="451.6" r="2.8" fill="#b02828"/>
<circle cx="177.1" cy="449.3" r="2.8" fill="#b02828"/>
<circle cx="184.3" cy="449.3" r="2.8" fill="#b02828"/>
<circle cx="191.0" cy="449.3" r="2.8" fill="#b02828"/>
<circle cx="197.8" cy="451.6" r="2.8" fill="#b02828"/>
<circle cx="204.6" cy="449.3" r="2.8" fill="#b02828"/>
<circle cx="211.4" cy="449.3" r="2.8" fill="#b02828"/>
<circle cx="218.2" cy="449.3" r="2.8" fill="#b02828"/>
<circle cx="225.0" cy="449.3" r="2.8" fill="#b02828"/>
<circle cx="231.7" cy="449.3" r="2.8" fill="#b02828"/>
<circle cx="238.9" cy="449.3" r="2.8" fill="#b02828"/>
<circle cx="245.3" cy="449.3" r="2.8" fill="#b02828"/>
<circle cx="136.8" cy="475.1" r="2.8" fill="#b02828"/>
<circle cx="143.2" cy="475.1" r="2.8" fill="#b02828"/>
<path d="M135.4,470.6 L141.6,470.0 L149.4,464.8 L159.1,463.8 L178.4,463.8 L186.2,467.3 L195.9,470.6 L207.5,472.0 L217.2,474.5 L225.0,474.5 L234.7,472.6 L245.9,469.3" stroke="#ffa000" stroke-width="2" fill="none"/>
</g>
<path d="M135.5,456.5H245.5M135.5,475.5H245.5M135.5,494.5H245.5M142.5,436.7V513.8M163.5,436.7V513.8M184.5,436.7V513.8M205.5,436.7V513.8M226.5,436.7V513.8" stroke="#fff" stroke-opacity="0.3" stroke-width="1" fill="none" shape-rendering="crispEdges"/>
<path d="M135.5,456.5H245.5M135.5,475.5H245.5M135.5,494.5H245.5M142.5,436.7V513.8M163.5,436.7V513.8M184.5,436.7V513.8M205.5,436.7V513.8M226.5,436.7V513.8" stroke="#000" stroke-width="1" stroke-dasharray="2,2" fill="none" shape-rendering="crispEdges"/>
<rect x="135.5" y="436.7" width="110.0" height="77.09999999999997" fill="none" stroke="#000" stroke-width="1.3"/>
<clipPath id="lcL"><rect x="135.5" y="523.2" width="110.0" height="77.59999999999991"/></clipPath>
<rect x="135.5" y="523.2" width="110.0" height="77.59999999999991" fill="#87cefa"/>
<rect x="170" y="523.2" width="61.69999999999999" height="77.59999999999991" fill="#7dbdec"/>
<g clip-path="url(#lcL)">
<path d="M164.5,601.4 L165.5,587.7 L170.9,575.0 L178.2,565.0 L187.3,561.4 L191.8,549.5 L200.0,545.0 L205.5,540.5 L210.9,528.6 L218.2,524.1 L245.5,523.2 L246.4,601.4Z" fill="#ffffff"/>
<path d="M185.5,601.4 L192.7,573.2 L196.4,550.5 L198.2,531.4 L205.5,535.9 L207.3,531.4 L214.5,526.3 L221.8,524.5 L246.4,523.2 L246.4,601.4Z" fill="#9a9a9a"/>
<path d="M134.5,601.4 L135.5,575.0 L143.6,563.2 L149.1,575.0 L156.4,583.2 L164.5,586.8 L165.5,601.4Z" fill="#585858"/>
<path d="M165.5,601.4 L166.4,588.6 L176.4,593.2 L183.6,569.5 L191.8,569.5 L192.7,573.2 L196.4,587.7 L204.5,595.0 L218.2,545.0 L225.5,535.0 L234.5,538.6 L246.4,551.4 L246.4,601.4Z" fill="#585858"/>
<path d="M138.2,601.4 L149.1,591.4 L163.6,601.4Z" fill="#3c3c3c"/>
<path d="M204.5,540.5 L210.9,529.5 L218.2,525.0 L232.7,524.1 L240.0,536.8 L245.5,544.1" stroke="#fff" stroke-width="1.3" fill="none"/>
<rect x="216.7" y="589.9" width="3" height="12" fill="#ffb800"/>
<rect x="223.6" y="589.9" width="3" height="12" fill="#ffb800"/>
<rect x="230.3" y="589.9" width="3" height="12" fill="#ffb800"/>
<rect x="237.6" y="589.9" width="3" height="12" fill="#ffb800"/>
</g>
<path d="M135.5,543.5H245.5M135.5,562.5H245.5M135.5,582.5H245.5M142.5,523.2V600.8M163.5,523.2V600.8M184.5,523.2V600.8M205.5,523.2V600.8M226.5,523.2V600.8" stroke="#fff" stroke-opacity="0.3" stroke-width="1" fill="none" shape-rendering="crispEdges"/>
<path d="M135.5,543.5H245.5M135.5,562.5H245.5M135.5,582.5H245.5M142.5,523.2V600.8M163.5,523.2V600.8M184.5,523.2V600.8M205.5,523.2V600.8M226.5,523.2V600.8" stroke="#000" stroke-width="1" stroke-dasharray="2,2" fill="none" shape-rendering="crispEdges"/>
<rect x="135.5" y="523.2" width="110.0" height="77.59999999999991" fill="none" stroke="#000" stroke-width="1.3"/>
<text x="128.5" y="63.3" font-size="11" fill="#000" stroke="#000" stroke-width="0.15" text-anchor="end">30</text>
<text x="266" y="63.3" font-size="11" fill="#000" stroke="#000" stroke-width="0.15" text-anchor="end">30</text>
<text x="128.5" y="81.3" font-size="11" fill="#000" stroke="#000" stroke-width="0.15" text-anchor="end">20</text>
<text x="266" y="81.3" font-size="11" fill="#000" stroke="#000" stroke-width="0.15" text-anchor="end">20</text>
<text x="128.5" y="98.4" font-size="11" fill="#000" stroke="#000" stroke-width="0.15" text-anchor="end">10</text>
<text x="266" y="98.4" font-size="11" fill="#000" stroke="#000" stroke-width="0.15" text-anchor="end">10</text>
<text x="128.5" y="115.3" font-size="11" fill="#000" stroke="#000" stroke-width="0.15" text-anchor="end">0</text>
<text x="266" y="115.3" font-size="11" fill="#000" stroke="#000" stroke-width="0.15" text-anchor="end">0</text>
<text x="128.5" y="133.3" font-size="11" fill="#000" stroke="#000" stroke-width="0.15" text-anchor="end">-10</text>
<text x="266" y="133.3" font-size="11" fill="#000" stroke="#000" stroke-width="0.15" text-anchor="end">-10</text>
<text x="128.5" y="154.3" font-size="11" fill="#000" stroke="#000" stroke-width="0.15" text-anchor="end">2.0</text>
<text x="259" y="154.3" font-size="11" fill="#e8601c" stroke="#e8601c" stroke-width="0.15" text-anchor="middle">96</text>
<text x="128.5" y="172.4" font-size="11" fill="#000" stroke="#000" stroke-width="0.15" text-anchor="end">1.5</text>
<text x="259" y="172.4" font-size="11" fill="#e8601c" stroke="#e8601c" stroke-width="0.15" text-anchor="middle">84</text>
<text x="128.5" y="189.3" font-size="11" fill="#000" stroke="#000" stroke-width="0.15" text-anchor="end">1.0</text>
<text x="259" y="189.3" font-size="11" fill="#e8601c" stroke="#e8601c" stroke-width="0.15" text-anchor="middle">73</text>
<text x="128.5" y="207.3" font-size="11" fill="#000" stroke="#000" stroke-width="0.15" text-anchor="end">0.5</text>
<text x="259" y="207.3" font-size="11" fill="#e8601c" stroke="#e8601c" stroke-width="0.15" text-anchor="middle">61</text>
<text x="128.5" y="223.3" font-size="11" fill="#000" stroke="#000" stroke-width="0.15" text-anchor="end">0.0</text>
<text x="259" y="223.3" font-size="11" fill="#e8601c" stroke="#e8601c" stroke-width="0.15" text-anchor="middle">50</text>
<text x="128.5" y="235.3" font-size="11" fill="#000" stroke="#000" stroke-width="0.15" text-anchor="end">1018</text>
<text x="250.7" y="235.3" font-size="11" fill="#000" stroke="#000" stroke-width="0.15">1018</text>
<text x="128.5" y="258.4" font-size="11" fill="#000" stroke="#000" stroke-width="0.15" text-anchor="end">1016</text>
<text x="250.7" y="258.4" font-size="11" fill="#000" stroke="#000" stroke-width="0.15">1016</text>
<text x="128.5" y="282.4" font-size="11" fill="#000" stroke="#000" stroke-width="0.15" text-anchor="end">1014</text>
<text x="250.7" y="282.4" font-size="11" fill="#000" stroke="#000" stroke-width="0.15">1014</text>
<text x="128.5" y="305.3" font-size="11" fill="#000" stroke="#000" stroke-width="0.15" text-anchor="end">1012</text>
<text x="250.7" y="305.3" font-size="11" fill="#000" stroke="#000" stroke-width="0.15">1012</text>
<text x="128.5" y="319.8" font-size="11" fill="#000" stroke="#000" stroke-width="0.15" text-anchor="end">20</text>
<text x="256.5" y="319.8" font-size="11" fill="#000" stroke="#000" stroke-width="0.15" text-anchor="middle">72</text>
<text x="128.5" y="338.4" font-size="11" fill="#000" stroke="#000" stroke-width="0.15" text-anchor="end">15</text>
<text x="256.5" y="338.4" font-size="11" fill="#000" stroke="#000" stroke-width="0.15" text-anchor="middle">54</text>
<text x="128.5" y="358.4" font-size="11" fill="#000" stroke="#000" stroke-width="0.15" text-anchor="end">10</text>
<text x="256.5" y="358.4" font-size="11" fill="#000" stroke="#000" stroke-width="0.15" text-anchor="middle">36</text>
<text x="128.5" y="377.3" font-size="11" fill="#000" stroke="#000" stroke-width="0.15" text-anchor="end">5</text>
<text x="256.5" y="377.3" font-size="11" fill="#000" stroke="#000" stroke-width="0.15" text-anchor="middle">18</text>
<text x="128.5" y="396" font-size="11" fill="#000" stroke="#000" stroke-width="0.15" text-anchor="end">0</text>
<text x="256.5" y="396" font-size="11" fill="#000" stroke="#000" stroke-width="0.15" text-anchor="middle">0</text>
<text x="128.5" y="440.5" font-size="11" fill="#000" stroke="#000" stroke-width="0.15" text-anchor="end">15.0</text>
<text x="251.5" y="440.5" font-size="11" fill="#ff8c00" stroke="#ff8c00" stroke-width="0.15">100</text>
<text x="128.5" y="460" font-size="11" fill="#000" stroke="#000" stroke-width="0.15" text-anchor="end">7.0</text>
<text x="251.5" y="460" font-size="11" fill="#ff8c00" stroke="#ff8c00" stroke-width="0.15">20</text>
<text x="128.5" y="479.5" font-size="11" fill="#000" stroke="#000" stroke-width="0.15" text-anchor="end">2.0</text>
<text x="251.5" y="479.5" font-size="11" fill="#ff8c00" stroke="#ff8c00" stroke-width="0.15">5</text>
<text x="128.5" y="499.5" font-size="11" fill="#000" stroke="#000" stroke-width="0.15" text-anchor="end">0.5</text>
<text x="251.5" y="499.5" font-size="11" fill="#ff8c00" stroke="#ff8c00" stroke-width="0.15">1</text>
<text x="128.5" y="517.5" font-size="11" fill="#000" stroke="#000" stroke-width="0.15" text-anchor="end">0.0</text>
<text x="251.5" y="517.5" font-size="11" fill="#ff8c00" stroke="#ff8c00" stroke-width="0.15">0</text>
<text x="128.5" y="527.3" font-size="11" fill="#000" stroke="#000" stroke-width="0.15" text-anchor="end">8</text>
<text x="251" y="527.3" font-size="11" fill="#ff8c00" stroke="#ff8c00" stroke-width="0.15">1</text>
<text x="128.5" y="547.5" font-size="11" fill="#000" stroke="#000" stroke-width="0.15" text-anchor="end">6</text>
<text x="251" y="547.5" font-size="11" fill="#ff8c00" stroke="#ff8c00" stroke-width="0.15">0.75</text>
<text x="128.5" y="566.2" font-size="11" fill="#000" stroke="#000" stroke-width="0.15" text-anchor="end">4</text>
<text x="251" y="566.2" font-size="11" fill="#ff8c00" stroke="#ff8c00" stroke-width="0.15">0.5</text>
<text x="128.5" y="586.3" font-size="11" fill="#000" stroke="#000" stroke-width="0.15" text-anchor="end">2</text>
<text x="251" y="586.3" font-size="11" fill="#ff8c00" stroke="#ff8c00" stroke-width="0.15">0.25</text>
<text x="128.5" y="604.9" font-size="11" fill="#000" stroke="#000" stroke-width="0.15" text-anchor="end">0</text>
<text x="251" y="604.9" font-size="11" fill="#ff8c00" stroke="#ff8c00" stroke-width="0.15">0</text>
<text x="164" y="51.5" font-size="12" fill="#000" stroke="#000" stroke-width="0.15" text-anchor="middle">20</text>
<text x="204" y="51.5" font-size="12" fill="#000" stroke="#000" stroke-width="0.15" text-anchor="middle">02</text>
<text x="244.3" y="51.5" font-size="12" fill="#000" stroke="#000" stroke-width="0.15" text-anchor="middle">08</text>
<text x="164.5" y="614.5" font-size="12" fill="#000" stroke="#000" stroke-width="0.15" text-anchor="middle">18</text>
<text x="203.6" y="614.5" font-size="12" fill="#000" stroke="#000" stroke-width="0.15" text-anchor="middle">00</text>
<text x="244.5" y="614.5" font-size="12" fill="#000" stroke="#000" stroke-width="0.15" text-anchor="middle">06</text>
<text x="5.8" y="18" font-size="11" fill="#000" stroke="#000" stroke-width="0.15" textLength="58.9" lengthAdjust="spacingAndGlyphs">Czas lokalny</text>
<text x="5.8" y="30" font-size="11" fill="#000" stroke="#000" stroke-width="0.15" textLength="54.2" lengthAdjust="spacingAndGlyphs">(CET/CEST)</text>
<path d="M67.5,16.5 L133.5,16.5 L155.5,44.5" stroke="#000" stroke-width="1" fill="none" shape-rendering="crispEdges"/>
<text x="6.3" y="45.8" font-size="11" fill="#a82020" stroke="#a82020" stroke-width="0.15" textLength="92.7" lengthAdjust="spacingAndGlyphs">Temperatura gruntu</text>
<text x="27.5" y="55.8" font-size="11" fill="#a82020" stroke="#a82020" stroke-width="0.15" textLength="38.5" lengthAdjust="spacingAndGlyphs">max/min</text>
<path d="M101.5,43.5 L118.5,43.5 L157.5,100.5" stroke="#a82020" stroke-width="1" fill="none" shape-rendering="crispEdges"/>
<text x="5.5" y="67.5" font-size="11" fill="#000" stroke="#000" stroke-width="0.15" textLength="61.5" lengthAdjust="spacingAndGlyphs">Temperatura:</text>
<text x="12.5" y="79.7" font-size="11" fill="#ff0000" stroke="#ff0000" stroke-width="0.15" textLength="77.5" lengthAdjust="spacingAndGlyphs">punkt środkowy</text>
<path d="M91.5,77.5 L115.5,77.5" stroke="#ff0000" stroke-width="1" fill="none" shape-rendering="crispEdges"/>
<path d="M131.5,76.5 L150.5,98.5" stroke="#ff0000" stroke-width="1" fill="none" shape-rendering="crispEdges"/>
<text x="27.5" y="89.7" font-size="11" fill="#ffd8c8" stroke="#ffd8c8" stroke-width="0.15" textLength="38.5" lengthAdjust="spacingAndGlyphs">max/min</text>
<text x="9.8" y="101.7" font-size="11" fill="#0000ff" stroke="#0000ff" stroke-width="0.15" textLength="57.2" lengthAdjust="spacingAndGlyphs">odczuwana</text>
<path d="M70.5,99.5 L133.5,99.5 L137.5,102.5" stroke="#0000ff" stroke-width="1" fill="none" shape-rendering="crispEdges"/>
<text x="27.5" y="111.5" font-size="11" fill="#a8dcf8" stroke="#a8dcf8" stroke-width="0.15" textLength="38.5" lengthAdjust="spacingAndGlyphs">max/min</text>
<text x="6" y="123.3" font-size="11" fill="#6a5ad0" stroke="#6a5ad0" stroke-width="0.15" textLength="86" lengthAdjust="spacingAndGlyphs">Temp. punktu rosy</text>
<path d="M95.5,120.5 L133.5,120.5 L143.5,113.5" stroke="#6a5ad0" stroke-width="1" fill="none" shape-rendering="crispEdges"/>
<text x="5.8" y="140.8" font-size="11" fill="#ff0000" stroke="#ff0000" stroke-width="0.15" textLength="94.2" lengthAdjust="spacingAndGlyphs">Opad powyżej skali</text>
<path d="M103.5,137.5 L140.5,137.5 L146.5,147.5" stroke="#ff0000" stroke-width="1" fill="none" shape-rendering="crispEdges"/>
<text x="5.8" y="154.7" font-size="11" fill="#e8501c" stroke="#e8501c" stroke-width="0.15" textLength="97.2" lengthAdjust="spacingAndGlyphs">Wilgotność względna</text>
<path d="M106.5,151.5 L111.5,151.5" stroke="#e8501c" stroke-width="1" fill="none" shape-rendering="crispEdges"/>
<path d="M130.5,151.5 L148.5,160.5" stroke="#e8501c" stroke-width="1" fill="none" shape-rendering="crispEdges"/>
<text x="5.8" y="168.3" font-size="11" fill="#000" stroke="#000" stroke-width="0.15" textLength="85.2" lengthAdjust="spacingAndGlyphs">Wystąpienie burzy</text>
<path d="M94.5,166.5 L113.5,166.5" stroke="#000" stroke-width="1" fill="none" shape-rendering="crispEdges"/>
<path d="M130.5,165.5 L136.5,171.5" stroke="#000" stroke-width="1" fill="none" shape-rendering="crispEdges"/>
<text x="5.8" y="182.5" font-size="11" fill="#10a010" stroke="#10a010" stroke-width="0.15" textLength="62.7" lengthAdjust="spacingAndGlyphs">Deszcz: max</text>
<path d="M71.5,179.5 L139.5,179.5" stroke="#10a010" stroke-width="1" fill="none" shape-rendering="crispEdges"/>
<text x="48.5" y="192.5" font-size="11" fill="#10a010" stroke="#10a010" stroke-width="0.15" textLength="29.5" lengthAdjust="spacingAndGlyphs">średni</text>
<path d="M80.5,190.5 L136.5,190.5" stroke="#10a010" stroke-width="1" fill="none" shape-rendering="crispEdges"/>
<text x="5.8" y="204" font-size="11" fill="#1030d0" stroke="#1030d0" stroke-width="0.15" textLength="29.2" lengthAdjust="spacingAndGlyphs">Śnieg:</text>
<text x="48.5" y="204" font-size="11" fill="#1030d0" stroke="#1030d0" stroke-width="0.15" textLength="19.5" lengthAdjust="spacingAndGlyphs">max</text>
<path d="M70.5,202.5 L113.5,202.5" stroke="#1030d0" stroke-width="1" fill="none" shape-rendering="crispEdges"/>
<path d="M130.5,202.5 L136.5,200.5 L160.5,171.5" stroke="#1030d0" stroke-width="1" fill="none" shape-rendering="crispEdges"/>
<text x="48.5" y="215" font-size="11" fill="#1030d0" stroke="#1030d0" stroke-width="0.15" textLength="29.5" lengthAdjust="spacingAndGlyphs">średni</text>
<path d="M81.5,213.5 L133.5,213.5 L157.5,188.5" stroke="#1030d0" stroke-width="1" fill="none" shape-rendering="crispEdges"/>
<text x="5.5" y="227" font-size="11" fill="#ff0000" stroke="#ff0000" stroke-width="0.15" textLength="88.5" lengthAdjust="spacingAndGlyphs">Wystąpienie opadu</text>
<text x="5.5" y="239.5" font-size="11" fill="#ff0000" stroke="#ff0000" stroke-width="0.15" textLength="71.5" lengthAdjust="spacingAndGlyphs">konwekcyjnego</text>
<path d="M97.5,225.5 L143.5,225.5 L147.5,219.5" stroke="#ff0000" stroke-width="1" fill="none" shape-rendering="crispEdges"/>
<text x="5" y="266.2" font-size="11" fill="#000" stroke="#000" stroke-width="0.15" textLength="42" lengthAdjust="spacingAndGlyphs">Ciśnienie</text>
<text x="5" y="279.2" font-size="11" fill="#000" stroke="#000" stroke-width="0.15" textLength="66" lengthAdjust="spacingAndGlyphs">zredukowane</text>
<text x="5" y="291.7" font-size="11" fill="#000" stroke="#000" stroke-width="0.15" textLength="87" lengthAdjust="spacingAndGlyphs">do poziomu morza</text>
<path d="M51.5,264.5 L133.5,264.5 L135.5,262.5" stroke="#000" stroke-width="1" fill="none" shape-rendering="crispEdges"/>
<text x="5.5" y="322" font-size="11" fill="#000" stroke="#000" stroke-width="0.15" textLength="66" lengthAdjust="spacingAndGlyphs">Wiatr na 10m:</text>
<text x="9.5" y="337.5" font-size="11" fill="#ff0000" stroke="#ff0000" stroke-width="0.15" textLength="100.5" lengthAdjust="spacingAndGlyphs">poryw powyżej skali</text>
<path d="M112.5,335.5 L117.5,335.5" stroke="#ff0000" stroke-width="1" fill="none" shape-rendering="crispEdges"/>
<path d="M130.5,334.5 L133.5,332.5 L138.5,317.5" stroke="#ff0000" stroke-width="1" fill="none" shape-rendering="crispEdges"/>
<text x="9.5" y="351.7" font-size="11" fill="#ff0000" stroke="#ff0000" stroke-width="0.15" textLength="94.5" lengthAdjust="spacingAndGlyphs">max porywy wiatru</text>
<path d="M107.5,349.5 L133.5,349.5 L143.5,340.5" stroke="#ff0000" stroke-width="1" fill="none" shape-rendering="crispEdges"/>
<text x="9.5" y="371.3" font-size="11" fill="#1a1a9a" stroke="#1a1a9a" stroke-width="0.15" textLength="78.5" lengthAdjust="spacingAndGlyphs">prędkość wiatru</text>
<text x="9.5" y="384.2" font-size="11" fill="#1a1a9a" stroke="#1a1a9a" stroke-width="0.15" textLength="88.5" lengthAdjust="spacingAndGlyphs">w środku obszaru</text>
<path d="M92.5,368.5 L140.5,368.5" stroke="#1a1a9a" stroke-width="1" fill="none" shape-rendering="crispEdges"/>
<text x="9.5" y="412" font-size="11" fill="#1a1a9a" stroke="#1a1a9a" stroke-width="0.15" textLength="73.5" lengthAdjust="spacingAndGlyphs">kierunek wiatru</text>
<path d="M86.5,410.5 L140.5,410.5 L142.5,415.5" stroke="#1a1a9a" stroke-width="1" fill="none" shape-rendering="crispEdges"/>
<text x="6" y="432.5" font-size="11" fill="#a82020" stroke="#a82020" stroke-width="0.15" textLength="91" lengthAdjust="spacingAndGlyphs">Wierzchołek chmur</text>
<path d="M100.5,429.5 L130.5,429.5 L184.5,447.5" stroke="#a82020" stroke-width="1" fill="none" shape-rendering="crispEdges"/>
<text x="5.8" y="447" font-size="11" fill="#000" stroke="#000" stroke-width="0.15" textLength="85.2" lengthAdjust="spacingAndGlyphs">Podstawa chmur*</text>
<text x="5.8" y="458.3" font-size="11" fill="#000" stroke="#000" stroke-width="0.15" textLength="47.2" lengthAdjust="spacingAndGlyphs">o pokryciu</text>
<text x="10.8" y="470.8" font-size="11" fill="#000" stroke="#000" stroke-width="0.15" textLength="43.7" lengthAdjust="spacingAndGlyphs">&gt; 7.9 okt.</text>
<path d="M57.5,468.5 L137.5,468.5 L191.5,456.5" stroke="#000" stroke-width="1" fill="none" shape-rendering="crispEdges"/>
<text x="10.8" y="482.5" font-size="11" fill="#505050" stroke="#505050" stroke-width="0.15" textLength="43.7" lengthAdjust="spacingAndGlyphs">&gt; 6.5 okt.</text>
<path d="M57.5,480.5 L143.5,480.5" stroke="#505050" stroke-width="1" fill="none" shape-rendering="crispEdges"/>
<text x="10.8" y="492.8" font-size="11" fill="#a0a0a0" stroke="#a0a0a0" stroke-width="0.15" textLength="43.7" lengthAdjust="spacingAndGlyphs">&gt; 4.5 okt.</text>
<path d="M57.5,490.5 L132.5,490.5 L143.5,500.5" stroke="#a0a0a0" stroke-width="1" fill="none" shape-rendering="crispEdges"/>
<text x="10.8" y="502.8" font-size="11" fill="#d8d8d8" stroke="#d8d8d8" stroke-width="0.15" textLength="43.7" lengthAdjust="spacingAndGlyphs">&gt; 2.5 okt.</text>
<path d="M57.5,500.5 L133.5,500.5 L139.5,508.5" stroke="#d0d0d0" stroke-width="1" fill="none" shape-rendering="crispEdges"/>
<rect x="11" y="505" width="44" height="11.7" fill="#87cefa"/>
<text x="11.5" y="514.3" font-size="11" fill="#ffffff" stroke="#ffffff" stroke-width="0.15" textLength="43" lengthAdjust="spacingAndGlyphs">&gt; 0.1 okt.</text>
<path d="M57.5,509.5 L136.5,509.5" stroke="#87cefa" stroke-width="1" fill="none" shape-rendering="crispEdges"/>
<path d="M57.5,511.5 L136.5,511.5" stroke="#87cefa" stroke-width="1" fill="none" shape-rendering="crispEdges"/>
<text x="5.8" y="528.3" font-size="11" fill="#ff8c00" stroke="#ff8c00" stroke-width="0.15" textLength="56.2" lengthAdjust="spacingAndGlyphs">Widzialność</text>
<path d="M66.5,526.5 L128.5,526.5 L172.5,464.5" stroke="#ff8c00" stroke-width="1" fill="none" shape-rendering="crispEdges"/>
<text x="5.5" y="546.7" font-size="11" fill="#000" stroke="#000" stroke-width="0.15" textLength="39.5" lengthAdjust="spacingAndGlyphs">Chmury:</text>
<rect x="10" y="551.3" width="41" height="11.2" fill="#87cefa"/>
<text x="10.5" y="560" font-size="11" fill="#ffffff" stroke="#ffffff" stroke-width="0.15" textLength="40" lengthAdjust="spacingAndGlyphs">wysokie</text>
<path d="M53.5,557.5 L150.5,557.5" stroke="#87cefa" stroke-width="1" fill="none" shape-rendering="crispEdges"/>
<path d="M53.5,559.5 L150.5,559.5" stroke="#87cefa" stroke-width="1" fill="none" shape-rendering="crispEdges"/>
<text x="10" y="572.9" font-size="11" fill="#a8a8a8" stroke="#a8a8a8" stroke-width="0.15" textLength="35" lengthAdjust="spacingAndGlyphs">średnie</text>
<path d="M49.5,571.5 L190.5,571.5" stroke="#a8a8a8" stroke-width="1" fill="none" shape-rendering="crispEdges"/>
<text x="10" y="584.7" font-size="11" fill="#505050" stroke="#505050" stroke-width="0.15" textLength="26" lengthAdjust="spacingAndGlyphs">niskie</text>
<path d="M40.5,582.5 L122.5,582.5" stroke="#505050" stroke-width="1" fill="none" shape-rendering="crispEdges"/>
<path d="M130.5,582.5 L136.5,582.5" stroke="#505050" stroke-width="1" fill="none" shape-rendering="crispEdges"/>
<text x="10" y="596.5" font-size="11" fill="#303030" stroke="#303030" stroke-width="0.15" textLength="61" lengthAdjust="spacingAndGlyphs">bardzo niskie</text>
<path d="M74.5,594.5 L143.5,594.5" stroke="#303030" stroke-width="1" fill="none" shape-rendering="crispEdges"/>
<text x="5.5" y="608.3" font-size="11" fill="#ffb400" stroke="#ffb400" stroke-width="0.15" textLength="20.5" lengthAdjust="spacingAndGlyphs">Mgła</text>
<path d="M30.5,604.5 L218.5,604.5 L219.5,600.5" stroke="#ffb400" stroke-width="1" fill="none" shape-rendering="crispEdges"/>
<text x="5.5" y="625.5" font-size="11.5" fill="#000" stroke="#000" stroke-width="0.15" textLength="131.5" lengthAdjust="spacing">Czas uniwersalny (UTC)</text>
<path d="M139.5,623.5 L148.5,623.5 L156.5,611.5" stroke="#000" stroke-width="1" fill="none" shape-rendering="crispEdges"/>
<text x="5" y="650.5" font-size="9.5" fill="#000" stroke="#000" stroke-width="0.15" textLength="103" lengthAdjust="spacingAndGlyphs" font-weight="bold">* powyżej poziomu morza</text></svg></body></html>
